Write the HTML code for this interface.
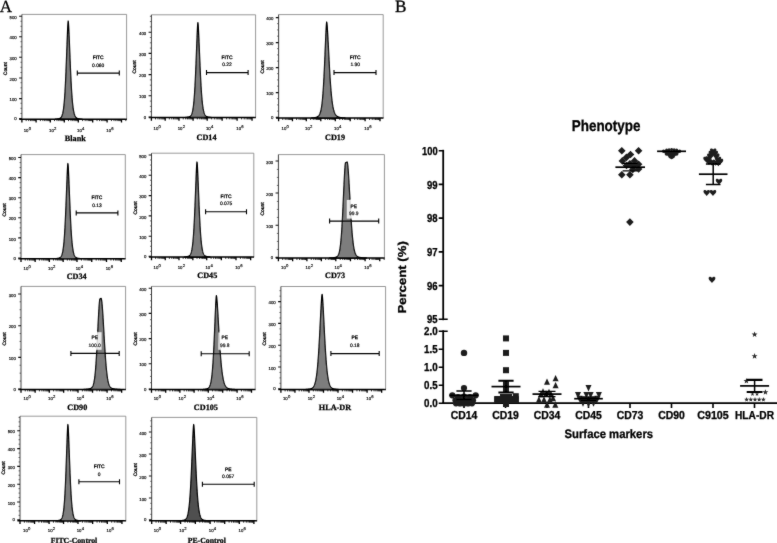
<!DOCTYPE html>
<html lang="en"><head><meta charset="utf-8"><title>Phenotype figure</title>
<style>
html,body{margin:0;padding:0;background:#fff;}
body{width:777px;height:543px;overflow:hidden;}
svg{display:block;}
svg text{text-rendering:geometricPrecision;}
</style></head><body>
<svg width="777" height="543" viewBox="0 0 777 543">
<defs><filter id="soft" x="0" y="0" width="777" height="543" filterUnits="userSpaceOnUse"><feConvolveMatrix order="3" kernelMatrix="1 3 1 3 38 3 1 3 1" divisor="54" edgeMode="duplicate" preserveAlpha="false"/></filter></defs>
<rect x="0" y="0" width="777" height="543" fill="#ffffff"/>
<g filter="url(#soft)">
<path d="M21.9,14.4 H126.6 V119.2" fill="none" stroke="#8c8c8c" stroke-width="0.9"/>
<path d="M55.33,119.20 L55.93,119.08 L56.11,119.07 L56.29,119.05 L56.47,119.04 L56.65,119.03 L56.83,119.01 L57.01,118.99 L57.19,118.98 L57.37,118.96 L57.55,118.93 L57.73,118.91 L57.91,118.88 L58.09,118.85 L58.27,118.82 L58.45,118.79 L58.64,118.75 L58.82,118.71 L59.00,118.66 L59.18,118.60 L59.36,118.54 L59.54,118.48 L59.72,118.40 L59.90,118.31 L60.08,118.22 L60.26,118.10 L60.44,117.98 L60.62,117.83 L60.80,117.67 L60.98,117.48 L61.16,117.26 L61.34,117.01 L61.52,116.73 L61.70,116.40 L61.88,116.03 L62.06,115.60 L62.24,115.11 L62.43,114.55 L62.61,113.91 L62.79,113.18 L62.97,112.35 L63.15,111.41 L63.33,110.35 L63.51,109.15 L63.69,107.80 L63.87,106.29 L64.05,104.60 L64.23,102.71 L64.41,100.62 L64.59,98.32 L64.77,95.78 L64.95,93.00 L65.13,89.97 L65.31,86.68 L65.49,83.14 L65.67,79.34 L65.85,75.30 L66.03,71.02 L66.21,66.53 L66.40,61.87 L66.58,57.05 L66.76,52.15 L66.94,47.21 L67.12,42.31 L67.30,37.55 L67.48,33.03 L67.66,28.88 L67.84,25.29 L68.02,22.49 L68.20,21.00 L68.39,22.49 L68.59,25.29 L68.78,28.88 L68.98,33.03 L69.17,37.55 L69.37,42.31 L69.56,47.21 L69.76,52.15 L69.95,57.05 L70.15,61.87 L70.34,66.53 L70.54,71.02 L70.73,75.30 L70.93,79.34 L71.12,83.14 L71.32,86.68 L71.51,89.97 L71.71,93.00 L71.90,95.78 L72.10,98.32 L72.29,100.62 L72.49,102.71 L72.68,104.60 L72.88,106.29 L73.07,107.80 L73.27,109.15 L73.46,110.35 L73.66,111.41 L73.85,112.35 L74.05,113.18 L74.24,113.91 L74.44,114.55 L74.63,115.11 L74.83,115.60 L75.02,116.03 L75.22,116.40 L75.41,116.73 L75.61,117.01 L75.80,117.26 L76.00,117.48 L76.19,117.67 L76.39,117.83 L76.58,117.98 L76.78,118.10 L76.97,118.22 L77.17,118.31 L77.36,118.40 L77.56,118.48 L77.75,118.54 L77.95,118.60 L78.14,118.66 L78.34,118.71 L78.53,118.75 L78.72,118.79 L78.92,118.82 L79.11,118.85 L79.31,118.88 L79.50,118.91 L79.70,118.93 L79.89,118.96 L80.09,118.98 L80.28,118.99 L80.48,119.01 L80.67,119.03 L80.87,119.04 L81.06,119.05 L81.26,119.07 L81.45,119.08 L82.05,119.20 Z" fill="#7d7d7d" stroke="#000" stroke-width="1.25" stroke-linejoin="round"/>
<path d="M77.3,73.1 H119.3 M77.3,70.6 V75.6 M119.3,70.6 V75.6" fill="none" stroke="#000" stroke-width="1.1"/>
<text x="98.2" y="59.1" text-anchor="middle" font-family='"Liberation Sans", Arial, sans-serif' font-size="4.9" fill="#000" stroke="#000" stroke-width="0.3">FITC</text>
<text x="98.2" y="66.6" text-anchor="middle" font-family='"Liberation Sans", Arial, sans-serif' font-size="4.9" fill="#000" stroke="#000" stroke-width="0.2">0.060</text>
<path d="M21.9,14.4 V119.2" fill="none" stroke="#2a2a2a" stroke-width="0.9"/>
<path d="M19.299999999999997,119.2 H126.89999999999999" fill="none" stroke="#000" stroke-width="1.5"/>
<text x="16.7" y="18.900000000000002" text-anchor="end" font-family='"Liberation Sans", Arial, sans-serif' font-size="4.3" fill="#000" stroke="#000" stroke-width="0.16">500</text>
<text x="16.7" y="39.4" text-anchor="end" font-family='"Liberation Sans", Arial, sans-serif' font-size="4.3" fill="#000" stroke="#000" stroke-width="0.16">400</text>
<text x="16.7" y="59.9" text-anchor="end" font-family='"Liberation Sans", Arial, sans-serif' font-size="4.3" fill="#000" stroke="#000" stroke-width="0.16">300</text>
<text x="16.7" y="80.6" text-anchor="end" font-family='"Liberation Sans", Arial, sans-serif' font-size="4.3" fill="#000" stroke="#000" stroke-width="0.16">200</text>
<text x="16.7" y="101.19999999999999" text-anchor="end" font-family='"Liberation Sans", Arial, sans-serif' font-size="4.3" fill="#000" stroke="#000" stroke-width="0.16">100</text>
<text x="16.7" y="120.1" text-anchor="end" font-family='"Liberation Sans", Arial, sans-serif' font-size="4.3" fill="#000" stroke="#000" stroke-width="0.16">0</text>
<path d="M19.099999999999998,16.3 H21.9 M19.099999999999998,36.8 H21.9 M19.099999999999998,57.3 H21.9 M19.099999999999998,78.0 H21.9 M19.099999999999998,98.6 H21.9 M19.099999999999998,118.6 H21.9 " fill="none" stroke="#111" stroke-width="1.1"/>
<path d="M20.4,113.47 H21.9 M20.4,108.35 H21.9 M20.4,103.22 H21.9 M20.4,92.97 H21.9 M20.4,87.85 H21.9 M20.4,82.72 H21.9 M20.4,72.47 H21.9 M20.4,67.35 H21.9 M20.4,62.22 H21.9 M20.4,51.97 H21.9 M20.4,46.85 H21.9 M20.4,41.72 H21.9 M20.4,31.47 H21.9 M20.4,26.35 H21.9 M20.4,21.22 H21.9 " fill="none" stroke="#333" stroke-width="0.7"/>
<path d="M21.90,119.2 V122.4 M36.10,119.2 V122.4 M50.30,119.2 V122.4 M64.30,119.2 V122.4 M78.30,119.2 V122.4 M92.70,119.2 V122.4 M107.10,119.2 V122.4 M121.50,119.2 V122.4 " fill="none" stroke="#000" stroke-width="1.3"/>
<path d="M26.17,119.2 V121.10000000000001 M28.68,119.2 V121.10000000000001 M30.45,119.2 V121.10000000000001 M31.83,119.2 V121.10000000000001 M32.95,119.2 V121.10000000000001 M33.90,119.2 V121.10000000000001 M34.72,119.2 V121.10000000000001 M35.45,119.2 V121.10000000000001 M40.37,119.2 V121.10000000000001 M42.88,119.2 V121.10000000000001 M44.65,119.2 V121.10000000000001 M46.03,119.2 V121.10000000000001 M47.15,119.2 V121.10000000000001 M48.10,119.2 V121.10000000000001 M48.92,119.2 V121.10000000000001 M49.65,119.2 V121.10000000000001 M54.51,119.2 V121.10000000000001 M56.98,119.2 V121.10000000000001 M58.73,119.2 V121.10000000000001 M60.09,119.2 V121.10000000000001 M61.19,119.2 V121.10000000000001 M62.13,119.2 V121.10000000000001 M62.94,119.2 V121.10000000000001 M63.66,119.2 V121.10000000000001 M68.51,119.2 V121.10000000000001 M70.98,119.2 V121.10000000000001 M72.73,119.2 V121.10000000000001 M74.09,119.2 V121.10000000000001 M75.19,119.2 V121.10000000000001 M76.13,119.2 V121.10000000000001 M76.94,119.2 V121.10000000000001 M77.66,119.2 V121.10000000000001 M82.63,119.2 V121.10000000000001 M85.17,119.2 V121.10000000000001 M86.97,119.2 V121.10000000000001 M88.37,119.2 V121.10000000000001 M89.51,119.2 V121.10000000000001 M90.47,119.2 V121.10000000000001 M91.30,119.2 V121.10000000000001 M92.04,119.2 V121.10000000000001 M97.03,119.2 V121.10000000000001 M99.57,119.2 V121.10000000000001 M101.37,119.2 V121.10000000000001 M102.77,119.2 V121.10000000000001 M103.91,119.2 V121.10000000000001 M104.87,119.2 V121.10000000000001 M105.70,119.2 V121.10000000000001 M106.44,119.2 V121.10000000000001 M111.43,119.2 V121.10000000000001 M113.97,119.2 V121.10000000000001 M115.77,119.2 V121.10000000000001 M117.17,119.2 V121.10000000000001 M118.31,119.2 V121.10000000000001 M119.27,119.2 V121.10000000000001 M120.10,119.2 V121.10000000000001 M120.84,119.2 V121.10000000000001 M125.83,119.2 V121.10000000000001 " fill="none" stroke="#000" stroke-width="0.8"/>
<text x="26.1" y="131.9" text-anchor="middle" font-family='"Liberation Sans", Arial, sans-serif' font-size="4.3" fill="#000" stroke="#000" stroke-width="0.16">10</text>
<text x="29.9" y="129.7" text-anchor="middle" font-family='"Liberation Sans", Arial, sans-serif' font-size="4.2" fill="#000" stroke="#000" stroke-width="0.16">0</text>
<text x="51.4" y="131.9" text-anchor="middle" font-family='"Liberation Sans", Arial, sans-serif' font-size="4.3" fill="#000" stroke="#000" stroke-width="0.16">10</text>
<text x="55.199999999999996" y="129.7" text-anchor="middle" font-family='"Liberation Sans", Arial, sans-serif' font-size="4.2" fill="#000" stroke="#000" stroke-width="0.16">2</text>
<text x="79.39999999999999" y="131.9" text-anchor="middle" font-family='"Liberation Sans", Arial, sans-serif' font-size="4.3" fill="#000" stroke="#000" stroke-width="0.16">10</text>
<text x="83.2" y="129.7" text-anchor="middle" font-family='"Liberation Sans", Arial, sans-serif' font-size="4.2" fill="#000" stroke="#000" stroke-width="0.16">4</text>
<text x="108.69999999999999" y="131.9" text-anchor="middle" font-family='"Liberation Sans", Arial, sans-serif' font-size="4.3" fill="#000" stroke="#000" stroke-width="0.16">10</text>
<text x="112.5" y="129.7" text-anchor="middle" font-family='"Liberation Sans", Arial, sans-serif' font-size="4.2" fill="#000" stroke="#000" stroke-width="0.16">6</text>
<text transform="translate(7.2,68.6) rotate(-90)" text-anchor="middle" font-family='"Liberation Sans", Arial, sans-serif' font-size="4.9" fill="#000" stroke="#000" stroke-width="0.3">Count</text>
<text x="75.3" y="140.5" text-anchor="middle" font-family='"Liberation Serif", "Times New Roman", serif' font-weight="bold" font-size="8.2" fill="#000" stroke="#000" stroke-width="0.25">Blank</text>
<path d="M151.4,14.8 H255.6 V117.5" fill="none" stroke="#8c8c8c" stroke-width="0.9"/>
<path d="M185.21,117.50 L185.81,117.37 L185.99,117.36 L186.17,117.35 L186.35,117.33 L186.53,117.32 L186.71,117.30 L186.89,117.28 L187.07,117.26 L187.25,117.24 L187.43,117.22 L187.61,117.19 L187.79,117.17 L187.97,117.14 L188.15,117.10 L188.34,117.06 L188.52,117.02 L188.70,116.98 L188.88,116.92 L189.06,116.87 L189.24,116.80 L189.42,116.73 L189.60,116.64 L189.78,116.55 L189.96,116.44 L190.14,116.32 L190.32,116.18 L190.50,116.02 L190.68,115.84 L190.86,115.63 L191.04,115.39 L191.22,115.11 L191.40,114.80 L191.58,114.43 L191.76,114.02 L191.94,113.55 L192.12,113.00 L192.31,112.39 L192.49,111.68 L192.67,110.88 L192.85,109.97 L193.03,108.95 L193.21,107.79 L193.39,106.48 L193.57,105.02 L193.75,103.39 L193.93,101.57 L194.11,99.55 L194.29,97.32 L194.47,94.86 L194.65,92.18 L194.83,89.25 L195.01,86.07 L195.19,82.65 L195.37,78.98 L195.55,75.07 L195.73,70.94 L195.91,66.60 L196.10,62.09 L196.28,57.44 L196.46,52.70 L196.64,47.93 L196.82,43.20 L197.00,38.59 L197.18,34.22 L197.36,30.22 L197.54,26.74 L197.72,24.04 L197.90,22.60 L198.09,24.04 L198.29,26.74 L198.48,30.22 L198.68,34.22 L198.87,38.59 L199.07,43.20 L199.26,47.93 L199.46,52.70 L199.65,57.44 L199.85,62.09 L200.04,66.60 L200.24,70.94 L200.43,75.07 L200.63,78.98 L200.82,82.65 L201.02,86.07 L201.21,89.25 L201.41,92.18 L201.60,94.86 L201.80,97.32 L201.99,99.55 L202.19,101.57 L202.38,103.39 L202.58,105.02 L202.77,106.48 L202.97,107.79 L203.16,108.95 L203.36,109.97 L203.55,110.88 L203.75,111.68 L203.94,112.39 L204.14,113.00 L204.33,113.55 L204.53,114.02 L204.72,114.43 L204.92,114.80 L205.11,115.11 L205.31,115.39 L205.50,115.63 L205.70,115.84 L205.89,116.02 L206.09,116.18 L206.28,116.32 L206.48,116.44 L206.67,116.55 L206.87,116.64 L207.06,116.73 L207.26,116.80 L207.45,116.87 L207.65,116.92 L207.84,116.98 L208.04,117.02 L208.23,117.06 L208.42,117.10 L208.62,117.14 L208.81,117.17 L209.01,117.19 L209.20,117.22 L209.40,117.24 L209.59,117.26 L209.79,117.28 L209.98,117.30 L210.18,117.32 L210.37,117.33 L210.57,117.35 L210.76,117.36 L210.96,117.37 L211.56,117.50 Z" fill="#7d7d7d" stroke="#000" stroke-width="1.25" stroke-linejoin="round"/>
<path d="M206.5,72.6 H248.1 M206.5,70.1 V75.1 M248.1,70.1 V75.1" fill="none" stroke="#000" stroke-width="1.1"/>
<text x="227" y="59.1" text-anchor="middle" font-family='"Liberation Sans", Arial, sans-serif' font-size="4.9" fill="#000" stroke="#000" stroke-width="0.3">FITC</text>
<text x="227" y="66.2" text-anchor="middle" font-family='"Liberation Sans", Arial, sans-serif' font-size="4.9" fill="#000" stroke="#000" stroke-width="0.2">0.22</text>
<path d="M151.4,14.8 V117.5" fill="none" stroke="#2a2a2a" stroke-width="0.9"/>
<path d="M148.8,117.5 H255.9" fill="none" stroke="#000" stroke-width="1.5"/>
<text x="146.20000000000002" y="34.800000000000004" text-anchor="end" font-family='"Liberation Sans", Arial, sans-serif' font-size="4.3" fill="#000" stroke="#000" stroke-width="0.16">400</text>
<text x="146.20000000000002" y="56.0" text-anchor="end" font-family='"Liberation Sans", Arial, sans-serif' font-size="4.3" fill="#000" stroke="#000" stroke-width="0.16">300</text>
<text x="146.20000000000002" y="77.19999999999999" text-anchor="end" font-family='"Liberation Sans", Arial, sans-serif' font-size="4.3" fill="#000" stroke="#000" stroke-width="0.16">200</text>
<text x="146.20000000000002" y="98.39999999999999" text-anchor="end" font-family='"Liberation Sans", Arial, sans-serif' font-size="4.3" fill="#000" stroke="#000" stroke-width="0.16">100</text>
<text x="146.20000000000002" y="118.5" text-anchor="end" font-family='"Liberation Sans", Arial, sans-serif' font-size="4.3" fill="#000" stroke="#000" stroke-width="0.16">0</text>
<path d="M148.6,32.2 H151.4 M148.6,53.4 H151.4 M148.6,74.6 H151.4 M148.6,95.8 H151.4 M148.6,117.0 H151.4 " fill="none" stroke="#111" stroke-width="1.1"/>
<path d="M149.9,111.70 H151.4 M149.9,106.40 H151.4 M149.9,101.10 H151.4 M149.9,90.50 H151.4 M149.9,85.20 H151.4 M149.9,79.90 H151.4 M149.9,69.30 H151.4 M149.9,64.00 H151.4 M149.9,58.70 H151.4 M149.9,48.10 H151.4 M149.9,42.80 H151.4 M149.9,37.50 H151.4 M149.9,26.90 H151.4 M149.9,21.60 H151.4 M149.9,16.30 H151.4 " fill="none" stroke="#333" stroke-width="0.7"/>
<path d="M151.40,117.5 V120.7 M165.20,117.5 V120.7 M179.00,117.5 V120.7 M193.10,117.5 V120.7 M207.20,117.5 V120.7 M222.15,117.5 V120.7 M237.10,117.5 V120.7 M252.05,117.5 V120.7 " fill="none" stroke="#000" stroke-width="1.3"/>
<path d="M155.55,117.5 V119.4 M157.98,117.5 V119.4 M159.71,117.5 V119.4 M161.05,117.5 V119.4 M162.14,117.5 V119.4 M163.06,117.5 V119.4 M163.86,117.5 V119.4 M164.57,117.5 V119.4 M169.35,117.5 V119.4 M171.78,117.5 V119.4 M173.51,117.5 V119.4 M174.85,117.5 V119.4 M175.94,117.5 V119.4 M176.86,117.5 V119.4 M177.66,117.5 V119.4 M178.37,117.5 V119.4 M183.24,117.5 V119.4 M185.73,117.5 V119.4 M187.49,117.5 V119.4 M188.86,117.5 V119.4 M189.97,117.5 V119.4 M190.92,117.5 V119.4 M191.73,117.5 V119.4 M192.45,117.5 V119.4 M197.34,117.5 V119.4 M199.83,117.5 V119.4 M201.59,117.5 V119.4 M202.96,117.5 V119.4 M204.07,117.5 V119.4 M205.02,117.5 V119.4 M205.83,117.5 V119.4 M206.55,117.5 V119.4 M211.70,117.5 V119.4 M214.33,117.5 V119.4 M216.20,117.5 V119.4 M217.65,117.5 V119.4 M218.83,117.5 V119.4 M219.83,117.5 V119.4 M220.70,117.5 V119.4 M221.47,117.5 V119.4 M226.65,117.5 V119.4 M229.28,117.5 V119.4 M231.15,117.5 V119.4 M232.60,117.5 V119.4 M233.78,117.5 V119.4 M234.78,117.5 V119.4 M235.65,117.5 V119.4 M236.42,117.5 V119.4 M241.60,117.5 V119.4 M244.23,117.5 V119.4 M246.10,117.5 V119.4 M247.55,117.5 V119.4 M248.73,117.5 V119.4 M249.73,117.5 V119.4 M250.60,117.5 V119.4 M251.37,117.5 V119.4 " fill="none" stroke="#000" stroke-width="0.8"/>
<text x="155.9" y="129.7" text-anchor="middle" font-family='"Liberation Sans", Arial, sans-serif' font-size="4.3" fill="#000" stroke="#000" stroke-width="0.16">10</text>
<text x="159.70000000000002" y="127.5" text-anchor="middle" font-family='"Liberation Sans", Arial, sans-serif' font-size="4.2" fill="#000" stroke="#000" stroke-width="0.16">0</text>
<text x="180.1" y="129.7" text-anchor="middle" font-family='"Liberation Sans", Arial, sans-serif' font-size="4.3" fill="#000" stroke="#000" stroke-width="0.16">10</text>
<text x="183.9" y="127.5" text-anchor="middle" font-family='"Liberation Sans", Arial, sans-serif' font-size="4.2" fill="#000" stroke="#000" stroke-width="0.16">2</text>
<text x="208.29999999999998" y="129.7" text-anchor="middle" font-family='"Liberation Sans", Arial, sans-serif' font-size="4.3" fill="#000" stroke="#000" stroke-width="0.16">10</text>
<text x="212.1" y="127.5" text-anchor="middle" font-family='"Liberation Sans", Arial, sans-serif' font-size="4.2" fill="#000" stroke="#000" stroke-width="0.16">4</text>
<text x="238.7" y="129.7" text-anchor="middle" font-family='"Liberation Sans", Arial, sans-serif' font-size="4.3" fill="#000" stroke="#000" stroke-width="0.16">10</text>
<text x="242.5" y="127.5" text-anchor="middle" font-family='"Liberation Sans", Arial, sans-serif' font-size="4.2" fill="#000" stroke="#000" stroke-width="0.16">6</text>
<text transform="translate(136.39999999999998,67) rotate(-90)" text-anchor="middle" font-family='"Liberation Sans", Arial, sans-serif' font-size="4.9" fill="#000" stroke="#000" stroke-width="0.3">Count</text>
<text x="206.5" y="140.0" text-anchor="middle" font-family='"Liberation Serif", "Times New Roman", serif' font-weight="bold" font-size="8.2" fill="#000" stroke="#000" stroke-width="0.25">CD14</text>
<path d="M278.6,14.6 H383.2 V118.1" fill="none" stroke="#8c8c8c" stroke-width="0.9"/>
<path d="M311.48,118.10 L312.08,117.97 L312.28,117.96 L312.47,117.95 L312.67,117.93 L312.86,117.92 L313.06,117.90 L313.25,117.88 L313.45,117.86 L313.64,117.84 L313.84,117.82 L314.03,117.79 L314.23,117.77 L314.42,117.74 L314.62,117.71 L314.81,117.67 L315.01,117.63 L315.20,117.59 L315.40,117.55 L315.59,117.50 L315.79,117.45 L315.98,117.40 L316.18,117.34 L316.37,117.27 L316.56,117.20 L316.76,117.13 L316.95,117.04 L317.15,116.95 L317.34,116.85 L317.54,116.74 L317.73,116.61 L317.93,116.48 L318.12,116.32 L318.32,116.16 L318.51,115.97 L318.71,115.76 L318.90,115.52 L319.10,115.26 L319.29,114.96 L319.49,114.63 L319.68,114.26 L319.88,113.84 L320.07,113.36 L320.27,112.82 L320.46,112.22 L320.66,111.54 L320.85,110.77 L321.05,109.91 L321.24,108.94 L321.44,107.85 L321.63,106.64 L321.83,105.28 L322.02,103.76 L322.22,102.08 L322.41,100.22 L322.61,98.16 L322.80,95.90 L323.00,93.42 L323.19,90.72 L323.39,87.78 L323.58,84.60 L323.78,81.19 L323.97,77.53 L324.17,73.65 L324.36,69.55 L324.56,65.26 L324.75,60.81 L324.95,56.22 L325.14,51.55 L325.34,46.85 L325.53,42.20 L325.73,37.67 L325.92,33.39 L326.12,29.46 L326.31,26.06 L326.51,23.40 L326.70,22.00 L326.94,23.40 L327.18,26.06 L327.41,29.46 L327.65,33.39 L327.89,37.67 L328.13,42.20 L328.37,46.85 L328.61,51.55 L328.84,56.22 L329.08,60.81 L329.32,65.26 L329.56,69.55 L329.80,73.65 L330.04,77.53 L330.27,81.19 L330.51,84.60 L330.75,87.78 L330.99,90.72 L331.23,93.42 L331.46,95.90 L331.70,98.16 L331.94,100.22 L332.18,102.08 L332.42,103.76 L332.66,105.28 L332.89,106.64 L333.13,107.85 L333.37,108.94 L333.61,109.91 L333.85,110.77 L334.08,111.54 L334.32,112.22 L334.56,112.82 L334.80,113.36 L335.04,113.84 L335.28,114.26 L335.51,114.63 L335.75,114.96 L335.99,115.26 L336.23,115.52 L336.47,115.76 L336.71,115.97 L336.94,116.16 L337.18,116.32 L337.42,116.48 L337.66,116.61 L337.90,116.74 L338.13,116.85 L338.37,116.95 L338.61,117.04 L338.85,117.13 L339.09,117.20 L339.33,117.27 L339.56,117.34 L339.80,117.40 L340.04,117.45 L340.28,117.50 L340.52,117.55 L340.75,117.59 L340.99,117.63 L341.23,117.67 L341.47,117.71 L341.71,117.74 L341.95,117.77 L342.18,117.79 L342.42,117.82 L342.66,117.84 L342.90,117.86 L343.14,117.88 L343.38,117.90 L343.61,117.92 L343.85,117.93 L344.09,117.95 L344.33,117.96 L344.57,117.97 L345.17,118.10 Z" fill="#7d7d7d" stroke="#000" stroke-width="1.25" stroke-linejoin="round"/>
<path d="M334,72.6 H376 M334,70.1 V75.1 M376,70.1 V75.1" fill="none" stroke="#000" stroke-width="1.1"/>
<text x="355.2" y="59.1" text-anchor="middle" font-family='"Liberation Sans", Arial, sans-serif' font-size="4.9" fill="#000" stroke="#000" stroke-width="0.3">FITC</text>
<text x="355.2" y="66.2" text-anchor="middle" font-family='"Liberation Sans", Arial, sans-serif' font-size="4.9" fill="#000" stroke="#000" stroke-width="0.2">1.90</text>
<path d="M278.6,14.6 V118.1" fill="none" stroke="#2a2a2a" stroke-width="0.9"/>
<path d="M276.0,118.1 H383.5" fill="none" stroke="#000" stroke-width="1.5"/>
<text x="273.40000000000003" y="20.200000000000003" text-anchor="end" font-family='"Liberation Sans", Arial, sans-serif' font-size="4.3" fill="#000" stroke="#000" stroke-width="0.16">400</text>
<text x="273.40000000000003" y="45.2" text-anchor="end" font-family='"Liberation Sans", Arial, sans-serif' font-size="4.3" fill="#000" stroke="#000" stroke-width="0.16">300</text>
<text x="273.40000000000003" y="70.19999999999999" text-anchor="end" font-family='"Liberation Sans", Arial, sans-serif' font-size="4.3" fill="#000" stroke="#000" stroke-width="0.16">200</text>
<text x="273.40000000000003" y="95.19999999999999" text-anchor="end" font-family='"Liberation Sans", Arial, sans-serif' font-size="4.3" fill="#000" stroke="#000" stroke-width="0.16">100</text>
<text x="273.40000000000003" y="118.9" text-anchor="end" font-family='"Liberation Sans", Arial, sans-serif' font-size="4.3" fill="#000" stroke="#000" stroke-width="0.16">0</text>
<path d="M275.8,17.6 H278.6 M275.8,42.6 H278.6 M275.8,67.6 H278.6 M275.8,92.6 H278.6 M275.8,117.4 H278.6 " fill="none" stroke="#111" stroke-width="1.1"/>
<path d="M277.1,111.15 H278.6 M277.1,104.90 H278.6 M277.1,98.65 H278.6 M277.1,86.15 H278.6 M277.1,79.90 H278.6 M277.1,73.65 H278.6 M277.1,61.15 H278.6 M277.1,54.90 H278.6 M277.1,48.65 H278.6 M277.1,36.15 H278.6 M277.1,29.90 H278.6 M277.1,23.65 H278.6 " fill="none" stroke="#333" stroke-width="0.7"/>
<path d="M278.60,118.1 V121.3 M292.45,118.1 V121.3 M306.30,118.1 V121.3 M320.80,118.1 V121.3 M335.30,118.1 V121.3 M350.20,118.1 V121.3 M365.10,118.1 V121.3 M380.00,118.1 V121.3 " fill="none" stroke="#000" stroke-width="1.3"/>
<path d="M282.77,118.1 V120.0 M285.21,118.1 V120.0 M286.94,118.1 V120.0 M288.28,118.1 V120.0 M289.38,118.1 V120.0 M290.30,118.1 V120.0 M291.11,118.1 V120.0 M291.82,118.1 V120.0 M296.62,118.1 V120.0 M299.06,118.1 V120.0 M300.79,118.1 V120.0 M302.13,118.1 V120.0 M303.23,118.1 V120.0 M304.15,118.1 V120.0 M304.96,118.1 V120.0 M305.67,118.1 V120.0 M310.66,118.1 V120.0 M313.22,118.1 V120.0 M315.03,118.1 V120.0 M316.44,118.1 V120.0 M317.58,118.1 V120.0 M318.55,118.1 V120.0 M319.39,118.1 V120.0 M320.14,118.1 V120.0 M325.16,118.1 V120.0 M327.72,118.1 V120.0 M329.53,118.1 V120.0 M330.94,118.1 V120.0 M332.08,118.1 V120.0 M333.05,118.1 V120.0 M333.89,118.1 V120.0 M334.64,118.1 V120.0 M339.79,118.1 V120.0 M342.41,118.1 V120.0 M344.27,118.1 V120.0 M345.71,118.1 V120.0 M346.89,118.1 V120.0 M347.89,118.1 V120.0 M348.76,118.1 V120.0 M349.52,118.1 V120.0 M354.69,118.1 V120.0 M357.31,118.1 V120.0 M359.17,118.1 V120.0 M360.61,118.1 V120.0 M361.79,118.1 V120.0 M362.79,118.1 V120.0 M363.66,118.1 V120.0 M364.42,118.1 V120.0 M369.59,118.1 V120.0 M372.21,118.1 V120.0 M374.07,118.1 V120.0 M375.51,118.1 V120.0 M376.69,118.1 V120.0 M377.69,118.1 V120.0 M378.56,118.1 V120.0 M379.32,118.1 V120.0 " fill="none" stroke="#000" stroke-width="0.8"/>
<text x="283.90000000000003" y="129.7" text-anchor="middle" font-family='"Liberation Sans", Arial, sans-serif' font-size="4.3" fill="#000" stroke="#000" stroke-width="0.16">10</text>
<text x="287.7" y="127.5" text-anchor="middle" font-family='"Liberation Sans", Arial, sans-serif' font-size="4.2" fill="#000" stroke="#000" stroke-width="0.16">0</text>
<text x="307.40000000000003" y="129.7" text-anchor="middle" font-family='"Liberation Sans", Arial, sans-serif' font-size="4.3" fill="#000" stroke="#000" stroke-width="0.16">10</text>
<text x="311.2" y="127.5" text-anchor="middle" font-family='"Liberation Sans", Arial, sans-serif' font-size="4.2" fill="#000" stroke="#000" stroke-width="0.16">2</text>
<text x="336.40000000000003" y="129.7" text-anchor="middle" font-family='"Liberation Sans", Arial, sans-serif' font-size="4.3" fill="#000" stroke="#000" stroke-width="0.16">10</text>
<text x="340.2" y="127.5" text-anchor="middle" font-family='"Liberation Sans", Arial, sans-serif' font-size="4.2" fill="#000" stroke="#000" stroke-width="0.16">4</text>
<text x="366.70000000000005" y="129.7" text-anchor="middle" font-family='"Liberation Sans", Arial, sans-serif' font-size="4.3" fill="#000" stroke="#000" stroke-width="0.16">10</text>
<text x="370.5" y="127.5" text-anchor="middle" font-family='"Liberation Sans", Arial, sans-serif' font-size="4.2" fill="#000" stroke="#000" stroke-width="0.16">6</text>
<text transform="translate(263.9,67) rotate(-90)" text-anchor="middle" font-family='"Liberation Sans", Arial, sans-serif' font-size="4.9" fill="#000" stroke="#000" stroke-width="0.3">Count</text>
<text x="335" y="140.0" text-anchor="middle" font-family='"Liberation Serif", "Times New Roman", serif' font-weight="bold" font-size="8.2" fill="#000" stroke="#000" stroke-width="0.25">CD19</text>
<path d="M21,154.6 H125.3 V258.7" fill="none" stroke="#8c8c8c" stroke-width="0.9"/>
<path d="M55.21,258.70 L55.81,258.57 L55.99,258.56 L56.17,258.55 L56.35,258.53 L56.53,258.52 L56.71,258.50 L56.89,258.48 L57.07,258.46 L57.25,258.44 L57.43,258.42 L57.61,258.39 L57.79,258.37 L57.97,258.33 L58.15,258.30 L58.34,258.26 L58.52,258.22 L58.70,258.17 L58.88,258.12 L59.06,258.06 L59.24,258.00 L59.42,257.92 L59.60,257.84 L59.78,257.75 L59.96,257.64 L60.14,257.51 L60.32,257.37 L60.50,257.21 L60.68,257.03 L60.86,256.82 L61.04,256.58 L61.22,256.30 L61.40,255.99 L61.58,255.62 L61.76,255.21 L61.94,254.73 L62.13,254.19 L62.31,253.57 L62.49,252.86 L62.67,252.06 L62.85,251.15 L63.03,250.12 L63.21,248.96 L63.39,247.65 L63.57,246.18 L63.75,244.54 L63.93,242.72 L64.11,240.69 L64.29,238.45 L64.47,235.99 L64.65,233.30 L64.83,230.36 L65.01,227.17 L65.19,223.74 L65.37,220.06 L65.55,216.14 L65.73,211.99 L65.91,207.64 L66.10,203.12 L66.28,198.45 L66.46,193.70 L66.64,188.91 L66.82,184.16 L67.00,179.54 L67.18,175.16 L67.36,171.14 L67.54,167.66 L67.72,164.94 L67.90,163.50 L68.09,164.94 L68.28,167.66 L68.46,171.14 L68.65,175.16 L68.84,179.54 L69.03,184.16 L69.21,188.91 L69.40,193.70 L69.59,198.45 L69.78,203.12 L69.96,207.64 L70.15,211.99 L70.34,216.14 L70.53,220.06 L70.72,223.74 L70.90,227.17 L71.09,230.36 L71.28,233.30 L71.47,235.99 L71.65,238.45 L71.84,240.69 L72.03,242.72 L72.22,244.54 L72.40,246.18 L72.59,247.65 L72.78,248.96 L72.97,250.12 L73.16,251.15 L73.34,252.06 L73.53,252.86 L73.72,253.57 L73.91,254.19 L74.09,254.73 L74.28,255.21 L74.47,255.62 L74.66,255.99 L74.84,256.30 L75.03,256.58 L75.22,256.82 L75.41,257.03 L75.60,257.21 L75.78,257.37 L75.97,257.51 L76.16,257.64 L76.35,257.75 L76.53,257.84 L76.72,257.92 L76.91,258.00 L77.10,258.06 L77.28,258.12 L77.47,258.17 L77.66,258.22 L77.85,258.26 L78.04,258.30 L78.22,258.33 L78.41,258.37 L78.60,258.39 L78.79,258.42 L78.97,258.44 L79.16,258.46 L79.35,258.48 L79.54,258.50 L79.72,258.52 L79.91,258.53 L80.10,258.55 L80.29,258.56 L80.48,258.57 L81.08,258.70 Z" fill="#7d7d7d" stroke="#000" stroke-width="1.25" stroke-linejoin="round"/>
<path d="M76.2,212.9 H117.9 M76.2,210.4 V215.4 M117.9,210.4 V215.4" fill="none" stroke="#000" stroke-width="1.1"/>
<text x="96.9" y="199.1" text-anchor="middle" font-family='"Liberation Sans", Arial, sans-serif' font-size="4.9" fill="#000" stroke="#000" stroke-width="0.3">FITC</text>
<text x="96.9" y="206.6" text-anchor="middle" font-family='"Liberation Sans", Arial, sans-serif' font-size="4.9" fill="#000" stroke="#000" stroke-width="0.2">0.13</text>
<path d="M21,154.6 V258.7" fill="none" stroke="#2a2a2a" stroke-width="0.9"/>
<path d="M18.4,258.7 H125.6" fill="none" stroke="#000" stroke-width="1.5"/>
<text x="15.8" y="160.1" text-anchor="end" font-family='"Liberation Sans", Arial, sans-serif' font-size="4.3" fill="#000" stroke="#000" stroke-width="0.16">500</text>
<text x="15.8" y="180.2" text-anchor="end" font-family='"Liberation Sans", Arial, sans-serif' font-size="4.3" fill="#000" stroke="#000" stroke-width="0.16">400</text>
<text x="15.8" y="200.29999999999998" text-anchor="end" font-family='"Liberation Sans", Arial, sans-serif' font-size="4.3" fill="#000" stroke="#000" stroke-width="0.16">300</text>
<text x="15.8" y="220.4" text-anchor="end" font-family='"Liberation Sans", Arial, sans-serif' font-size="4.3" fill="#000" stroke="#000" stroke-width="0.16">200</text>
<text x="15.8" y="240.5" text-anchor="end" font-family='"Liberation Sans", Arial, sans-serif' font-size="4.3" fill="#000" stroke="#000" stroke-width="0.16">100</text>
<text x="15.8" y="259.5" text-anchor="end" font-family='"Liberation Sans", Arial, sans-serif' font-size="4.3" fill="#000" stroke="#000" stroke-width="0.16">0</text>
<path d="M18.2,157.5 H21 M18.2,177.6 H21 M18.2,197.7 H21 M18.2,217.8 H21 M18.2,237.9 H21 M18.2,258.0 H21 " fill="none" stroke="#111" stroke-width="1.1"/>
<path d="M19.5,252.97 H21 M19.5,247.95 H21 M19.5,242.92 H21 M19.5,232.87 H21 M19.5,227.85 H21 M19.5,222.82 H21 M19.5,212.77 H21 M19.5,207.75 H21 M19.5,202.72 H21 M19.5,192.67 H21 M19.5,187.65 H21 M19.5,182.62 H21 M19.5,172.57 H21 M19.5,167.55 H21 M19.5,162.52 H21 " fill="none" stroke="#333" stroke-width="0.7"/>
<path d="M21.00,258.7 V261.9 M35.15,258.7 V261.9 M49.30,258.7 V261.9 M63.15,258.7 V261.9 M77.00,258.7 V261.9 M91.75,258.7 V261.9 M106.50,258.7 V261.9 M121.25,258.7 V261.9 " fill="none" stroke="#000" stroke-width="1.3"/>
<path d="M25.26,258.7 V260.59999999999997 M27.75,258.7 V260.59999999999997 M29.52,258.7 V260.59999999999997 M30.89,258.7 V260.59999999999997 M32.01,258.7 V260.59999999999997 M32.96,258.7 V260.59999999999997 M33.78,258.7 V260.59999999999997 M34.50,258.7 V260.59999999999997 M39.41,258.7 V260.59999999999997 M41.90,258.7 V260.59999999999997 M43.67,258.7 V260.59999999999997 M45.04,258.7 V260.59999999999997 M46.16,258.7 V260.59999999999997 M47.11,258.7 V260.59999999999997 M47.93,258.7 V260.59999999999997 M48.65,258.7 V260.59999999999997 M53.47,258.7 V260.59999999999997 M55.91,258.7 V260.59999999999997 M57.64,258.7 V260.59999999999997 M58.98,258.7 V260.59999999999997 M60.08,258.7 V260.59999999999997 M61.00,258.7 V260.59999999999997 M61.81,258.7 V260.59999999999997 M62.52,258.7 V260.59999999999997 M67.32,258.7 V260.59999999999997 M69.76,258.7 V260.59999999999997 M71.49,258.7 V260.59999999999997 M72.83,258.7 V260.59999999999997 M73.93,258.7 V260.59999999999997 M74.85,258.7 V260.59999999999997 M75.66,258.7 V260.59999999999997 M76.37,258.7 V260.59999999999997 M81.44,258.7 V260.59999999999997 M84.04,258.7 V260.59999999999997 M85.88,258.7 V260.59999999999997 M87.31,258.7 V260.59999999999997 M88.48,258.7 V260.59999999999997 M89.47,258.7 V260.59999999999997 M90.32,258.7 V260.59999999999997 M91.08,258.7 V260.59999999999997 M96.19,258.7 V260.59999999999997 M98.79,258.7 V260.59999999999997 M100.63,258.7 V260.59999999999997 M102.06,258.7 V260.59999999999997 M103.23,258.7 V260.59999999999997 M104.22,258.7 V260.59999999999997 M105.07,258.7 V260.59999999999997 M105.83,258.7 V260.59999999999997 M110.94,258.7 V260.59999999999997 M113.54,258.7 V260.59999999999997 M115.38,258.7 V260.59999999999997 M116.81,258.7 V260.59999999999997 M117.98,258.7 V260.59999999999997 M118.97,258.7 V260.59999999999997 M119.82,258.7 V260.59999999999997 M120.58,258.7 V260.59999999999997 " fill="none" stroke="#000" stroke-width="0.8"/>
<text x="25.900000000000002" y="269.9" text-anchor="middle" font-family='"Liberation Sans", Arial, sans-serif' font-size="4.3" fill="#000" stroke="#000" stroke-width="0.16">10</text>
<text x="29.7" y="267.7" text-anchor="middle" font-family='"Liberation Sans", Arial, sans-serif' font-size="4.2" fill="#000" stroke="#000" stroke-width="0.16">0</text>
<text x="50.4" y="269.9" text-anchor="middle" font-family='"Liberation Sans", Arial, sans-serif' font-size="4.3" fill="#000" stroke="#000" stroke-width="0.16">10</text>
<text x="54.199999999999996" y="267.7" text-anchor="middle" font-family='"Liberation Sans", Arial, sans-serif' font-size="4.2" fill="#000" stroke="#000" stroke-width="0.16">2</text>
<text x="78.1" y="269.9" text-anchor="middle" font-family='"Liberation Sans", Arial, sans-serif' font-size="4.3" fill="#000" stroke="#000" stroke-width="0.16">10</text>
<text x="81.9" y="267.7" text-anchor="middle" font-family='"Liberation Sans", Arial, sans-serif' font-size="4.2" fill="#000" stroke="#000" stroke-width="0.16">4</text>
<text x="108.1" y="269.9" text-anchor="middle" font-family='"Liberation Sans", Arial, sans-serif' font-size="4.3" fill="#000" stroke="#000" stroke-width="0.16">10</text>
<text x="111.9" y="267.7" text-anchor="middle" font-family='"Liberation Sans", Arial, sans-serif' font-size="4.2" fill="#000" stroke="#000" stroke-width="0.16">6</text>
<text transform="translate(6.2,210) rotate(-90)" text-anchor="middle" font-family='"Liberation Sans", Arial, sans-serif' font-size="4.9" fill="#000" stroke="#000" stroke-width="0.3">Count</text>
<text x="76.7" y="278.6" text-anchor="middle" font-family='"Liberation Serif", "Times New Roman", serif' font-weight="bold" font-size="8.2" fill="#000" stroke="#000" stroke-width="0.25">CD34</text>
<path d="M151.5,153.2 H253.8 V257" fill="none" stroke="#8c8c8c" stroke-width="0.9"/>
<path d="M184.31,257.00 L184.91,256.87 L185.09,256.86 L185.27,256.85 L185.45,256.83 L185.63,256.82 L185.81,256.80 L185.99,256.78 L186.17,256.76 L186.35,256.74 L186.53,256.72 L186.71,256.69 L186.89,256.67 L187.07,256.64 L187.25,256.60 L187.44,256.56 L187.62,256.52 L187.80,256.48 L187.98,256.42 L188.16,256.36 L188.34,256.30 L188.52,256.23 L188.70,256.14 L188.88,256.05 L189.06,255.94 L189.24,255.82 L189.42,255.68 L189.60,255.52 L189.78,255.33 L189.96,255.12 L190.14,254.88 L190.32,254.61 L190.50,254.29 L190.68,253.93 L190.86,253.52 L191.04,253.04 L191.22,252.50 L191.41,251.88 L191.59,251.18 L191.77,250.37 L191.95,249.47 L192.13,248.44 L192.31,247.28 L192.49,245.97 L192.67,244.51 L192.85,242.87 L193.03,241.05 L193.21,239.03 L193.39,236.80 L193.57,234.34 L193.75,231.65 L193.93,228.72 L194.11,225.54 L194.29,222.11 L194.47,218.44 L194.65,214.53 L194.83,210.39 L195.01,206.05 L195.20,201.53 L195.38,196.88 L195.56,192.13 L195.74,187.35 L195.92,182.62 L196.10,178.01 L196.28,173.63 L196.46,169.63 L196.64,166.15 L196.82,163.44 L197.00,162.00 L197.19,163.44 L197.38,166.15 L197.56,169.63 L197.75,173.63 L197.94,178.01 L198.13,182.62 L198.31,187.35 L198.50,192.13 L198.69,196.88 L198.88,201.53 L199.06,206.05 L199.25,210.39 L199.44,214.53 L199.63,218.44 L199.82,222.11 L200.00,225.54 L200.19,228.72 L200.38,231.65 L200.57,234.34 L200.75,236.80 L200.94,239.03 L201.13,241.05 L201.32,242.87 L201.50,244.51 L201.69,245.97 L201.88,247.28 L202.07,248.44 L202.26,249.47 L202.44,250.37 L202.63,251.18 L202.82,251.88 L203.01,252.50 L203.19,253.04 L203.38,253.52 L203.57,253.93 L203.76,254.29 L203.94,254.61 L204.13,254.88 L204.32,255.12 L204.51,255.33 L204.70,255.52 L204.88,255.68 L205.07,255.82 L205.26,255.94 L205.45,256.05 L205.63,256.14 L205.82,256.23 L206.01,256.30 L206.20,256.36 L206.38,256.42 L206.57,256.48 L206.76,256.52 L206.95,256.56 L207.14,256.60 L207.32,256.64 L207.51,256.67 L207.70,256.69 L207.89,256.72 L208.07,256.74 L208.26,256.76 L208.45,256.78 L208.64,256.80 L208.82,256.82 L209.01,256.83 L209.20,256.85 L209.39,256.86 L209.58,256.87 L210.18,257.00 Z" fill="#7d7d7d" stroke="#000" stroke-width="1.25" stroke-linejoin="round"/>
<path d="M205.6,211.8 H246.5 M205.6,209.3 V214.3 M246.5,209.3 V214.3" fill="none" stroke="#000" stroke-width="1.1"/>
<text x="226" y="197.7" text-anchor="middle" font-family='"Liberation Sans", Arial, sans-serif' font-size="4.9" fill="#000" stroke="#000" stroke-width="0.3">FITC</text>
<text x="226" y="205.2" text-anchor="middle" font-family='"Liberation Sans", Arial, sans-serif' font-size="4.9" fill="#000" stroke="#000" stroke-width="0.2">0.075</text>
<path d="M151.5,153.2 V257" fill="none" stroke="#2a2a2a" stroke-width="0.9"/>
<path d="M148.9,257 H254.10000000000002" fill="none" stroke="#000" stroke-width="1.5"/>
<text x="146.3" y="157.6" text-anchor="end" font-family='"Liberation Sans", Arial, sans-serif' font-size="4.3" fill="#000" stroke="#000" stroke-width="0.16">500</text>
<text x="146.3" y="177.9" text-anchor="end" font-family='"Liberation Sans", Arial, sans-serif' font-size="4.3" fill="#000" stroke="#000" stroke-width="0.16">400</text>
<text x="146.3" y="198.2" text-anchor="end" font-family='"Liberation Sans", Arial, sans-serif' font-size="4.3" fill="#000" stroke="#000" stroke-width="0.16">300</text>
<text x="146.3" y="218.5" text-anchor="end" font-family='"Liberation Sans", Arial, sans-serif' font-size="4.3" fill="#000" stroke="#000" stroke-width="0.16">200</text>
<text x="146.3" y="238.79999999999998" text-anchor="end" font-family='"Liberation Sans", Arial, sans-serif' font-size="4.3" fill="#000" stroke="#000" stroke-width="0.16">100</text>
<text x="146.3" y="257.9" text-anchor="end" font-family='"Liberation Sans", Arial, sans-serif' font-size="4.3" fill="#000" stroke="#000" stroke-width="0.16">0</text>
<path d="M148.7,155.0 H151.5 M148.7,175.3 H151.5 M148.7,195.6 H151.5 M148.7,215.9 H151.5 M148.7,236.2 H151.5 M148.7,256.4 H151.5 " fill="none" stroke="#111" stroke-width="1.1"/>
<path d="M150.0,251.32 H151.5 M150.0,246.25 H151.5 M150.0,241.18 H151.5 M150.0,231.03 H151.5 M150.0,225.95 H151.5 M150.0,220.88 H151.5 M150.0,210.73 H151.5 M150.0,205.65 H151.5 M150.0,200.58 H151.5 M150.0,190.43 H151.5 M150.0,185.35 H151.5 M150.0,180.28 H151.5 M150.0,170.13 H151.5 M150.0,165.05 H151.5 M150.0,159.98 H151.5 " fill="none" stroke="#333" stroke-width="0.7"/>
<path d="M151.50,257 V260.2 M165.25,257 V260.2 M179.00,257 V260.2 M192.85,257 V260.2 M206.70,257 V260.2 M221.35,257 V260.2 M236.00,257 V260.2 M250.65,257 V260.2 " fill="none" stroke="#000" stroke-width="1.3"/>
<path d="M155.64,257 V258.9 M158.06,257 V258.9 M159.78,257 V258.9 M161.11,257 V258.9 M162.20,257 V258.9 M163.12,257 V258.9 M163.92,257 V258.9 M164.62,257 V258.9 M169.39,257 V258.9 M171.81,257 V258.9 M173.53,257 V258.9 M174.86,257 V258.9 M175.95,257 V258.9 M176.87,257 V258.9 M177.67,257 V258.9 M178.37,257 V258.9 M183.17,257 V258.9 M185.61,257 V258.9 M187.34,257 V258.9 M188.68,257 V258.9 M189.78,257 V258.9 M190.70,257 V258.9 M191.51,257 V258.9 M192.22,257 V258.9 M197.02,257 V258.9 M199.46,257 V258.9 M201.19,257 V258.9 M202.53,257 V258.9 M203.63,257 V258.9 M204.55,257 V258.9 M205.36,257 V258.9 M206.07,257 V258.9 M211.11,257 V258.9 M213.69,257 V258.9 M215.52,257 V258.9 M216.94,257 V258.9 M218.10,257 V258.9 M219.08,257 V258.9 M219.93,257 V258.9 M220.68,257 V258.9 M225.76,257 V258.9 M228.34,257 V258.9 M230.17,257 V258.9 M231.59,257 V258.9 M232.75,257 V258.9 M233.73,257 V258.9 M234.58,257 V258.9 M235.33,257 V258.9 M240.41,257 V258.9 M242.99,257 V258.9 M244.82,257 V258.9 M246.24,257 V258.9 M247.40,257 V258.9 M248.38,257 V258.9 M249.23,257 V258.9 M249.98,257 V258.9 " fill="none" stroke="#000" stroke-width="0.8"/>
<text x="155.9" y="269.4" text-anchor="middle" font-family='"Liberation Sans", Arial, sans-serif' font-size="4.3" fill="#000" stroke="#000" stroke-width="0.16">10</text>
<text x="159.70000000000002" y="267.2" text-anchor="middle" font-family='"Liberation Sans", Arial, sans-serif' font-size="4.2" fill="#000" stroke="#000" stroke-width="0.16">0</text>
<text x="180.1" y="269.4" text-anchor="middle" font-family='"Liberation Sans", Arial, sans-serif' font-size="4.3" fill="#000" stroke="#000" stroke-width="0.16">10</text>
<text x="183.9" y="267.2" text-anchor="middle" font-family='"Liberation Sans", Arial, sans-serif' font-size="4.2" fill="#000" stroke="#000" stroke-width="0.16">2</text>
<text x="207.79999999999998" y="269.4" text-anchor="middle" font-family='"Liberation Sans", Arial, sans-serif' font-size="4.3" fill="#000" stroke="#000" stroke-width="0.16">10</text>
<text x="211.6" y="267.2" text-anchor="middle" font-family='"Liberation Sans", Arial, sans-serif' font-size="4.2" fill="#000" stroke="#000" stroke-width="0.16">4</text>
<text x="237.6" y="269.4" text-anchor="middle" font-family='"Liberation Sans", Arial, sans-serif' font-size="4.3" fill="#000" stroke="#000" stroke-width="0.16">10</text>
<text x="241.4" y="267.2" text-anchor="middle" font-family='"Liberation Sans", Arial, sans-serif' font-size="4.2" fill="#000" stroke="#000" stroke-width="0.16">6</text>
<text transform="translate(136.7,208) rotate(-90)" text-anchor="middle" font-family='"Liberation Sans", Arial, sans-serif' font-size="4.9" fill="#000" stroke="#000" stroke-width="0.3">Count</text>
<text x="207.3" y="278.3" text-anchor="middle" font-family='"Liberation Serif", "Times New Roman", serif' font-weight="bold" font-size="8.2" fill="#000" stroke="#000" stroke-width="0.25">CD45</text>
<path d="M278.4,154.6 H384.4 V258.1" fill="none" stroke="#8c8c8c" stroke-width="0.9"/>
<path d="M329.44,258.10 L330.04,257.97 L330.27,257.96 L330.51,257.95 L330.74,257.93 L330.97,257.92 L331.21,257.91 L331.44,257.89 L331.68,257.87 L331.91,257.85 L332.14,257.83 L332.38,257.81 L332.61,257.79 L332.84,257.76 L333.08,257.74 L333.31,257.71 L333.54,257.68 L333.78,257.65 L334.01,257.61 L334.25,257.57 L334.48,257.53 L334.71,257.49 L334.95,257.44 L335.18,257.38 L335.41,257.32 L335.65,257.25 L335.88,257.17 L336.12,257.08 L336.35,256.98 L336.58,256.86 L336.82,256.72 L337.05,256.56 L337.28,256.37 L337.52,256.14 L337.75,255.87 L337.99,255.54 L338.22,255.16 L338.45,254.70 L338.69,254.15 L338.92,253.50 L339.15,252.73 L339.39,251.83 L339.62,250.77 L339.86,249.53 L340.09,248.09 L340.32,246.43 L340.56,244.53 L340.79,242.37 L341.02,239.93 L341.26,237.18 L341.49,234.13 L341.73,230.76 L341.96,227.07 L342.19,223.07 L342.43,218.77 L342.66,214.20 L342.89,209.40 L343.13,204.41 L343.36,199.30 L343.60,194.13 L343.83,188.99 L344.06,183.97 L344.30,179.18 L344.53,174.72 L344.76,170.72 L345.00,167.30 L345.23,164.60 L345.47,162.76 L347.10,162.00 L347.38,162.76 L347.66,164.60 L347.95,167.30 L348.23,170.72 L348.51,174.72 L348.79,179.18 L349.07,183.97 L349.35,188.99 L349.64,194.13 L349.92,199.30 L350.20,204.41 L350.48,209.40 L350.76,214.20 L351.05,218.77 L351.33,223.07 L351.61,227.07 L351.89,230.76 L352.17,234.13 L352.46,237.18 L352.74,239.93 L353.02,242.37 L353.30,244.53 L353.58,246.43 L353.86,248.09 L354.15,249.53 L354.43,250.77 L354.71,251.83 L354.99,252.73 L355.27,253.50 L355.56,254.15 L355.84,254.70 L356.12,255.16 L356.40,255.54 L356.68,255.87 L356.97,256.14 L357.25,256.37 L357.53,256.56 L357.81,256.72 L358.09,256.86 L358.37,256.98 L358.66,257.08 L358.94,257.17 L359.22,257.25 L359.50,257.32 L359.78,257.38 L360.07,257.44 L360.35,257.49 L360.63,257.53 L360.91,257.57 L361.19,257.61 L361.48,257.65 L361.76,257.68 L362.04,257.71 L362.32,257.74 L362.60,257.76 L362.88,257.79 L363.17,257.81 L363.45,257.83 L363.73,257.85 L364.01,257.87 L364.29,257.89 L364.58,257.91 L364.86,257.92 L365.14,257.93 L365.42,257.95 L365.70,257.96 L365.99,257.97 L366.59,258.10 Z" fill="#7d7d7d" stroke="#000" stroke-width="1.25" stroke-linejoin="round"/>
<rect x="346.8" y="200" width="13.5" height="18.6" fill="#ffffff" fill-opacity="0.84"/>
<path d="M329.6,221.1 H378.7 M329.6,218.6 V223.6 M378.7,218.6 V223.6" fill="none" stroke="#000" stroke-width="1.1"/>
<text x="353.8" y="208.1" text-anchor="middle" font-family='"Liberation Sans", Arial, sans-serif' font-size="4.9" fill="#000" stroke="#000" stroke-width="0.3">PE</text>
<text x="353.8" y="215.1" text-anchor="middle" font-family='"Liberation Sans", Arial, sans-serif' font-size="4.9" fill="#000" stroke="#000" stroke-width="0.2">99.9</text>
<path d="M278.4,154.6 V258.1" fill="none" stroke="#2a2a2a" stroke-width="0.9"/>
<path d="M275.79999999999995,258.1 H384.7" fill="none" stroke="#000" stroke-width="1.5"/>
<text x="273.2" y="163.6" text-anchor="end" font-family='"Liberation Sans", Arial, sans-serif' font-size="4.3" fill="#000" stroke="#000" stroke-width="0.16">300</text>
<text x="273.2" y="195.6" text-anchor="end" font-family='"Liberation Sans", Arial, sans-serif' font-size="4.3" fill="#000" stroke="#000" stroke-width="0.16">200</text>
<text x="273.2" y="227.79999999999998" text-anchor="end" font-family='"Liberation Sans", Arial, sans-serif' font-size="4.3" fill="#000" stroke="#000" stroke-width="0.16">100</text>
<text x="273.2" y="258.9" text-anchor="end" font-family='"Liberation Sans", Arial, sans-serif' font-size="4.3" fill="#000" stroke="#000" stroke-width="0.16">0</text>
<path d="M275.59999999999997,161.0 H278.4 M275.59999999999997,193.0 H278.4 M275.59999999999997,225.2 H278.4 M275.59999999999997,257.4 H278.4 " fill="none" stroke="#111" stroke-width="1.1"/>
<path d="M276.9,249.40 H278.4 M276.9,241.40 H278.4 M276.9,233.40 H278.4 M276.9,217.40 H278.4 M276.9,209.40 H278.4 M276.9,201.40 H278.4 M276.9,185.40 H278.4 M276.9,177.40 H278.4 M276.9,169.40 H278.4 " fill="none" stroke="#333" stroke-width="0.7"/>
<path d="M278.40,258.1 V261.3 M292.65,258.1 V261.3 M306.90,258.1 V261.3 M321.35,258.1 V261.3 M335.80,258.1 V261.3 M350.45,258.1 V261.3 M365.10,258.1 V261.3 M379.75,258.1 V261.3 " fill="none" stroke="#000" stroke-width="1.3"/>
<path d="M282.69,258.1 V260.0 M285.20,258.1 V260.0 M286.98,258.1 V260.0 M288.36,258.1 V260.0 M289.49,258.1 V260.0 M290.44,258.1 V260.0 M291.27,258.1 V260.0 M292.00,258.1 V260.0 M296.94,258.1 V260.0 M299.45,258.1 V260.0 M301.23,258.1 V260.0 M302.61,258.1 V260.0 M303.74,258.1 V260.0 M304.69,258.1 V260.0 M305.52,258.1 V260.0 M306.25,258.1 V260.0 M311.25,258.1 V260.0 M313.79,258.1 V260.0 M315.60,258.1 V260.0 M317.00,258.1 V260.0 M318.14,258.1 V260.0 M319.11,258.1 V260.0 M319.95,258.1 V260.0 M320.69,258.1 V260.0 M325.70,258.1 V260.0 M328.24,258.1 V260.0 M330.05,258.1 V260.0 M331.45,258.1 V260.0 M332.59,258.1 V260.0 M333.56,258.1 V260.0 M334.40,258.1 V260.0 M335.14,258.1 V260.0 M340.21,258.1 V260.0 M342.79,258.1 V260.0 M344.62,258.1 V260.0 M346.04,258.1 V260.0 M347.20,258.1 V260.0 M348.18,258.1 V260.0 M349.03,258.1 V260.0 M349.78,258.1 V260.0 M354.86,258.1 V260.0 M357.44,258.1 V260.0 M359.27,258.1 V260.0 M360.69,258.1 V260.0 M361.85,258.1 V260.0 M362.83,258.1 V260.0 M363.68,258.1 V260.0 M364.43,258.1 V260.0 M369.51,258.1 V260.0 M372.09,258.1 V260.0 M373.92,258.1 V260.0 M375.34,258.1 V260.0 M376.50,258.1 V260.0 M377.48,258.1 V260.0 M378.33,258.1 V260.0 M379.08,258.1 V260.0 M384.16,258.1 V260.0 " fill="none" stroke="#000" stroke-width="0.8"/>
<text x="283.40000000000003" y="269.4" text-anchor="middle" font-family='"Liberation Sans", Arial, sans-serif' font-size="4.3" fill="#000" stroke="#000" stroke-width="0.16">10</text>
<text x="287.2" y="267.2" text-anchor="middle" font-family='"Liberation Sans", Arial, sans-serif' font-size="4.2" fill="#000" stroke="#000" stroke-width="0.16">0</text>
<text x="308.0" y="269.4" text-anchor="middle" font-family='"Liberation Sans", Arial, sans-serif' font-size="4.3" fill="#000" stroke="#000" stroke-width="0.16">10</text>
<text x="311.79999999999995" y="267.2" text-anchor="middle" font-family='"Liberation Sans", Arial, sans-serif' font-size="4.2" fill="#000" stroke="#000" stroke-width="0.16">2</text>
<text x="336.90000000000003" y="269.4" text-anchor="middle" font-family='"Liberation Sans", Arial, sans-serif' font-size="4.3" fill="#000" stroke="#000" stroke-width="0.16">10</text>
<text x="340.7" y="267.2" text-anchor="middle" font-family='"Liberation Sans", Arial, sans-serif' font-size="4.2" fill="#000" stroke="#000" stroke-width="0.16">4</text>
<text x="366.70000000000005" y="269.4" text-anchor="middle" font-family='"Liberation Sans", Arial, sans-serif' font-size="4.3" fill="#000" stroke="#000" stroke-width="0.16">10</text>
<text x="370.5" y="267.2" text-anchor="middle" font-family='"Liberation Sans", Arial, sans-serif' font-size="4.2" fill="#000" stroke="#000" stroke-width="0.16">6</text>
<text transform="translate(263.9,209) rotate(-90)" text-anchor="middle" font-family='"Liberation Sans", Arial, sans-serif' font-size="4.9" fill="#000" stroke="#000" stroke-width="0.3">Count</text>
<text x="335" y="278.3" text-anchor="middle" font-family='"Liberation Serif", "Times New Roman", serif' font-weight="bold" font-size="8.2" fill="#000" stroke="#000" stroke-width="0.25">CD73</text>
<path d="M21,286.4 H125.6 V389.5" fill="none" stroke="#8c8c8c" stroke-width="0.9"/>
<path d="M83.38,389.50 L83.98,389.38 L84.22,389.37 L84.46,389.36 L84.70,389.34 L84.94,389.33 L85.18,389.32 L85.42,389.30 L85.66,389.28 L85.90,389.27 L86.14,389.25 L86.38,389.23 L86.62,389.21 L86.87,389.18 L87.11,389.16 L87.35,389.13 L87.59,389.10 L87.83,389.07 L88.07,389.04 L88.31,389.01 L88.55,388.97 L88.79,388.93 L89.03,388.88 L89.27,388.83 L89.51,388.78 L89.75,388.72 L89.99,388.65 L90.23,388.58 L90.47,388.49 L90.72,388.39 L90.96,388.27 L91.20,388.13 L91.44,387.97 L91.68,387.77 L91.92,387.54 L92.16,387.26 L92.40,386.92 L92.64,386.52 L92.88,386.03 L93.12,385.45 L93.36,384.76 L93.60,383.93 L93.84,382.95 L94.08,381.81 L94.32,380.46 L94.57,378.90 L94.81,377.10 L95.05,375.03 L95.29,372.69 L95.53,370.04 L95.77,367.09 L96.01,363.82 L96.25,360.23 L96.49,356.34 L96.73,352.16 L96.97,347.71 L97.21,343.04 L97.45,338.21 L97.69,333.26 L97.93,328.29 L98.17,323.36 L98.42,318.59 L98.66,314.06 L98.90,309.89 L99.14,306.19 L99.38,303.06 L99.62,300.64 L99.86,299.03 L101.10,298.40 L101.38,299.03 L101.66,300.64 L101.95,303.06 L102.23,306.19 L102.51,309.89 L102.79,314.06 L103.07,318.59 L103.35,323.36 L103.64,328.29 L103.92,333.26 L104.20,338.21 L104.48,343.04 L104.76,347.71 L105.05,352.16 L105.33,356.34 L105.61,360.23 L105.89,363.82 L106.17,367.09 L106.46,370.04 L106.74,372.69 L107.02,375.03 L107.30,377.10 L107.58,378.90 L107.86,380.46 L108.15,381.81 L108.43,382.95 L108.71,383.93 L108.99,384.76 L109.27,385.45 L109.56,386.03 L109.84,386.52 L110.12,386.92 L110.40,387.26 L110.68,387.54 L110.97,387.77 L111.25,387.97 L111.53,388.13 L111.81,388.27 L112.09,388.39 L112.38,388.49 L112.66,388.58 L112.94,388.65 L113.22,388.72 L113.50,388.78 L113.78,388.83 L114.07,388.88 L114.35,388.93 L114.63,388.97 L114.91,389.01 L115.19,389.04 L115.48,389.07 L115.76,389.10 L116.04,389.13 L116.32,389.16 L116.60,389.18 L116.88,389.21 L117.17,389.23 L117.45,389.25 L117.73,389.27 L118.01,389.28 L118.29,389.30 L118.58,389.32 L118.86,389.33 L119.14,389.34 L119.42,389.36 L119.70,389.37 L119.99,389.38 L120.59,389.50 Z" fill="#7d7d7d" stroke="#000" stroke-width="1.25" stroke-linejoin="round"/>
<rect x="87.8" y="332.2" width="13.8" height="17.6" fill="#ffffff" fill-opacity="0.84"/>
<path d="M70.9,353.4 H119.2 M70.9,350.9 V355.9 M119.2,350.9 V355.9" fill="none" stroke="#000" stroke-width="1.1"/>
<text x="94.7" y="338.7" text-anchor="middle" font-family='"Liberation Sans", Arial, sans-serif' font-size="4.9" fill="#000" stroke="#000" stroke-width="0.3">PE</text>
<text x="94.7" y="346.5" text-anchor="middle" font-family='"Liberation Sans", Arial, sans-serif' font-size="4.9" fill="#000" stroke="#000" stroke-width="0.2">100.0</text>
<path d="M21,286.4 V389.5" fill="none" stroke="#2a2a2a" stroke-width="0.9"/>
<path d="M18.4,389.5 H125.89999999999999" fill="none" stroke="#000" stroke-width="1.5"/>
<text x="15.8" y="296.6" text-anchor="end" font-family='"Liberation Sans", Arial, sans-serif' font-size="4.3" fill="#000" stroke="#000" stroke-width="0.16">300</text>
<text x="15.8" y="328.3" text-anchor="end" font-family='"Liberation Sans", Arial, sans-serif' font-size="4.3" fill="#000" stroke="#000" stroke-width="0.16">200</text>
<text x="15.8" y="360.0" text-anchor="end" font-family='"Liberation Sans", Arial, sans-serif' font-size="4.3" fill="#000" stroke="#000" stroke-width="0.16">100</text>
<text x="15.8" y="390.5" text-anchor="end" font-family='"Liberation Sans", Arial, sans-serif' font-size="4.3" fill="#000" stroke="#000" stroke-width="0.16">0</text>
<path d="M18.2,294.0 H21 M18.2,325.7 H21 M18.2,357.4 H21 M18.2,389.0 H21 " fill="none" stroke="#111" stroke-width="1.1"/>
<path d="M19.5,381.07 H21 M19.5,373.15 H21 M19.5,365.22 H21 M19.5,349.37 H21 M19.5,341.45 H21 M19.5,333.52 H21 M19.5,317.67 H21 M19.5,309.75 H21 M19.5,301.82 H21 " fill="none" stroke="#333" stroke-width="0.7"/>
<path d="M21.00,389.5 V392.7 M35.15,389.5 V392.7 M49.30,389.5 V392.7 M63.65,389.5 V392.7 M78.00,389.5 V392.7 M92.55,389.5 V392.7 M107.10,389.5 V392.7 M121.65,389.5 V392.7 " fill="none" stroke="#000" stroke-width="1.3"/>
<path d="M25.26,389.5 V391.4 M27.75,389.5 V391.4 M29.52,389.5 V391.4 M30.89,389.5 V391.4 M32.01,389.5 V391.4 M32.96,389.5 V391.4 M33.78,389.5 V391.4 M34.50,389.5 V391.4 M39.41,389.5 V391.4 M41.90,389.5 V391.4 M43.67,389.5 V391.4 M45.04,389.5 V391.4 M46.16,389.5 V391.4 M47.11,389.5 V391.4 M47.93,389.5 V391.4 M48.65,389.5 V391.4 M53.62,389.5 V391.4 M56.15,389.5 V391.4 M57.94,389.5 V391.4 M59.33,389.5 V391.4 M60.47,389.5 V391.4 M61.43,389.5 V391.4 M62.26,389.5 V391.4 M62.99,389.5 V391.4 M67.97,389.5 V391.4 M70.50,389.5 V391.4 M72.29,389.5 V391.4 M73.68,389.5 V391.4 M74.82,389.5 V391.4 M75.78,389.5 V391.4 M76.61,389.5 V391.4 M77.34,389.5 V391.4 M82.38,389.5 V391.4 M84.94,389.5 V391.4 M86.76,389.5 V391.4 M88.17,389.5 V391.4 M89.32,389.5 V391.4 M90.30,389.5 V391.4 M91.14,389.5 V391.4 M91.88,389.5 V391.4 M96.93,389.5 V391.4 M99.49,389.5 V391.4 M101.31,389.5 V391.4 M102.72,389.5 V391.4 M103.87,389.5 V391.4 M104.85,389.5 V391.4 M105.69,389.5 V391.4 M106.43,389.5 V391.4 M111.48,389.5 V391.4 M114.04,389.5 V391.4 M115.86,389.5 V391.4 M117.27,389.5 V391.4 M118.42,389.5 V391.4 M119.40,389.5 V391.4 M120.24,389.5 V391.4 M120.98,389.5 V391.4 " fill="none" stroke="#000" stroke-width="0.8"/>
<text x="25.900000000000002" y="400.2" text-anchor="middle" font-family='"Liberation Sans", Arial, sans-serif' font-size="4.3" fill="#000" stroke="#000" stroke-width="0.16">10</text>
<text x="29.7" y="398.0" text-anchor="middle" font-family='"Liberation Sans", Arial, sans-serif' font-size="4.2" fill="#000" stroke="#000" stroke-width="0.16">0</text>
<text x="50.4" y="400.2" text-anchor="middle" font-family='"Liberation Sans", Arial, sans-serif' font-size="4.3" fill="#000" stroke="#000" stroke-width="0.16">10</text>
<text x="54.199999999999996" y="398.0" text-anchor="middle" font-family='"Liberation Sans", Arial, sans-serif' font-size="4.2" fill="#000" stroke="#000" stroke-width="0.16">2</text>
<text x="79.1" y="400.2" text-anchor="middle" font-family='"Liberation Sans", Arial, sans-serif' font-size="4.3" fill="#000" stroke="#000" stroke-width="0.16">10</text>
<text x="82.9" y="398.0" text-anchor="middle" font-family='"Liberation Sans", Arial, sans-serif' font-size="4.2" fill="#000" stroke="#000" stroke-width="0.16">4</text>
<text x="108.69999999999999" y="400.2" text-anchor="middle" font-family='"Liberation Sans", Arial, sans-serif' font-size="4.3" fill="#000" stroke="#000" stroke-width="0.16">10</text>
<text x="112.5" y="398.0" text-anchor="middle" font-family='"Liberation Sans", Arial, sans-serif' font-size="4.2" fill="#000" stroke="#000" stroke-width="0.16">6</text>
<text transform="translate(6.4,339) rotate(-90)" text-anchor="middle" font-family='"Liberation Sans", Arial, sans-serif' font-size="4.9" fill="#000" stroke="#000" stroke-width="0.3">Count</text>
<text x="77.3" y="410.0" text-anchor="middle" font-family='"Liberation Serif", "Times New Roman", serif' font-weight="bold" font-size="8.2" fill="#000" stroke="#000" stroke-width="0.25">CD90</text>
<path d="M151.5,286.4 H255.2 V389.5" fill="none" stroke="#8c8c8c" stroke-width="0.9"/>
<path d="M202.74,389.50 L203.34,389.37 L203.54,389.36 L203.73,389.35 L203.93,389.33 L204.12,389.32 L204.32,389.30 L204.51,389.29 L204.71,389.27 L204.90,389.25 L205.10,389.22 L205.29,389.20 L205.49,389.17 L205.68,389.14 L205.88,389.11 L206.07,389.07 L206.26,389.03 L206.46,388.98 L206.65,388.93 L206.85,388.87 L207.04,388.81 L207.24,388.74 L207.43,388.65 L207.63,388.56 L207.82,388.45 L208.02,388.33 L208.21,388.19 L208.41,388.04 L208.60,387.86 L208.80,387.65 L208.99,387.41 L209.19,387.14 L209.38,386.83 L209.58,386.47 L209.77,386.06 L209.97,385.59 L210.16,385.06 L210.36,384.45 L210.55,383.75 L210.75,382.96 L210.94,382.06 L211.14,381.05 L211.33,379.90 L211.53,378.61 L211.72,377.17 L211.92,375.55 L212.11,373.75 L212.31,371.76 L212.50,369.55 L212.70,367.13 L212.89,364.47 L213.09,361.58 L213.28,358.44 L213.48,355.05 L213.67,351.43 L213.87,347.56 L214.06,343.48 L214.26,339.19 L214.45,334.73 L214.65,330.14 L214.84,325.45 L215.04,320.73 L215.23,316.06 L215.43,311.51 L215.62,307.19 L215.82,303.23 L216.01,299.80 L216.21,297.12 L216.40,295.70 L216.67,297.12 L216.93,299.80 L217.20,303.23 L217.47,307.19 L217.74,311.51 L218.00,316.06 L218.27,320.73 L218.54,325.45 L218.80,330.14 L219.07,334.73 L219.34,339.19 L219.61,343.48 L219.87,347.56 L220.14,351.43 L220.41,355.05 L220.67,358.44 L220.94,361.58 L221.21,364.47 L221.47,367.13 L221.74,369.55 L222.01,371.76 L222.28,373.75 L222.54,375.55 L222.81,377.17 L223.08,378.61 L223.34,379.90 L223.61,381.05 L223.88,382.06 L224.15,382.96 L224.41,383.75 L224.68,384.45 L224.95,385.06 L225.21,385.59 L225.48,386.06 L225.75,386.47 L226.02,386.83 L226.28,387.14 L226.55,387.41 L226.82,387.65 L227.08,387.86 L227.35,388.04 L227.62,388.19 L227.89,388.33 L228.15,388.45 L228.42,388.56 L228.69,388.65 L228.95,388.74 L229.22,388.81 L229.49,388.87 L229.75,388.93 L230.02,388.98 L230.29,389.03 L230.56,389.07 L230.82,389.11 L231.09,389.14 L231.36,389.17 L231.62,389.20 L231.89,389.22 L232.16,389.25 L232.43,389.27 L232.69,389.29 L232.96,389.30 L233.23,389.32 L233.49,389.33 L233.76,389.35 L234.03,389.36 L234.30,389.37 L234.90,389.50 Z" fill="#7d7d7d" stroke="#000" stroke-width="1.25" stroke-linejoin="round"/>
<rect x="218.3" y="332.4" width="12.8" height="17.4" fill="#ffffff" fill-opacity="0.84"/>
<path d="M201.2,353.7 H249.2 M201.2,351.2 V356.2 M249.2,351.2 V356.2" fill="none" stroke="#000" stroke-width="1.1"/>
<text x="224.7" y="338.9" text-anchor="middle" font-family='"Liberation Sans", Arial, sans-serif' font-size="4.9" fill="#000" stroke="#000" stroke-width="0.3">PE</text>
<text x="224.7" y="346.6" text-anchor="middle" font-family='"Liberation Sans", Arial, sans-serif' font-size="4.9" fill="#000" stroke="#000" stroke-width="0.2">99.8</text>
<path d="M151.5,286.4 V389.5" fill="none" stroke="#2a2a2a" stroke-width="0.9"/>
<path d="M148.9,389.5 H255.5" fill="none" stroke="#000" stroke-width="1.5"/>
<text x="146.3" y="290.8" text-anchor="end" font-family='"Liberation Sans", Arial, sans-serif' font-size="4.3" fill="#000" stroke="#000" stroke-width="0.16">400</text>
<text x="146.3" y="316.0" text-anchor="end" font-family='"Liberation Sans", Arial, sans-serif' font-size="4.3" fill="#000" stroke="#000" stroke-width="0.16">300</text>
<text x="146.3" y="341.20000000000005" text-anchor="end" font-family='"Liberation Sans", Arial, sans-serif' font-size="4.3" fill="#000" stroke="#000" stroke-width="0.16">200</text>
<text x="146.3" y="366.40000000000003" text-anchor="end" font-family='"Liberation Sans", Arial, sans-serif' font-size="4.3" fill="#000" stroke="#000" stroke-width="0.16">100</text>
<text x="146.3" y="390.5" text-anchor="end" font-family='"Liberation Sans", Arial, sans-serif' font-size="4.3" fill="#000" stroke="#000" stroke-width="0.16">0</text>
<path d="M148.7,288.2 H151.5 M148.7,313.4 H151.5 M148.7,338.6 H151.5 M148.7,363.8 H151.5 M148.7,389.0 H151.5 " fill="none" stroke="#111" stroke-width="1.1"/>
<path d="M150.0,382.70 H151.5 M150.0,376.40 H151.5 M150.0,370.10 H151.5 M150.0,357.50 H151.5 M150.0,351.20 H151.5 M150.0,344.90 H151.5 M150.0,332.30 H151.5 M150.0,326.00 H151.5 M150.0,319.70 H151.5 M150.0,307.10 H151.5 M150.0,300.80 H151.5 M150.0,294.50 H151.5 " fill="none" stroke="#333" stroke-width="0.7"/>
<path d="M151.50,389.5 V392.7 M165.70,389.5 V392.7 M179.90,389.5 V392.7 M194.10,389.5 V392.7 M208.30,389.5 V392.7 M222.70,389.5 V392.7 M237.10,389.5 V392.7 M251.50,389.5 V392.7 " fill="none" stroke="#000" stroke-width="1.3"/>
<path d="M155.77,389.5 V391.4 M158.28,389.5 V391.4 M160.05,389.5 V391.4 M161.43,389.5 V391.4 M162.55,389.5 V391.4 M163.50,389.5 V391.4 M164.32,389.5 V391.4 M165.05,389.5 V391.4 M169.97,389.5 V391.4 M172.48,389.5 V391.4 M174.25,389.5 V391.4 M175.63,389.5 V391.4 M176.75,389.5 V391.4 M177.70,389.5 V391.4 M178.52,389.5 V391.4 M179.25,389.5 V391.4 M184.17,389.5 V391.4 M186.68,389.5 V391.4 M188.45,389.5 V391.4 M189.83,389.5 V391.4 M190.95,389.5 V391.4 M191.90,389.5 V391.4 M192.72,389.5 V391.4 M193.45,389.5 V391.4 M198.37,389.5 V391.4 M200.88,389.5 V391.4 M202.65,389.5 V391.4 M204.03,389.5 V391.4 M205.15,389.5 V391.4 M206.10,389.5 V391.4 M206.92,389.5 V391.4 M207.65,389.5 V391.4 M212.63,389.5 V391.4 M215.17,389.5 V391.4 M216.97,389.5 V391.4 M218.37,389.5 V391.4 M219.51,389.5 V391.4 M220.47,389.5 V391.4 M221.30,389.5 V391.4 M222.04,389.5 V391.4 M227.03,389.5 V391.4 M229.57,389.5 V391.4 M231.37,389.5 V391.4 M232.77,389.5 V391.4 M233.91,389.5 V391.4 M234.87,389.5 V391.4 M235.70,389.5 V391.4 M236.44,389.5 V391.4 M241.43,389.5 V391.4 M243.97,389.5 V391.4 M245.77,389.5 V391.4 M247.17,389.5 V391.4 M248.31,389.5 V391.4 M249.27,389.5 V391.4 M250.10,389.5 V391.4 M250.84,389.5 V391.4 " fill="none" stroke="#000" stroke-width="0.8"/>
<text x="156.1" y="400.2" text-anchor="middle" font-family='"Liberation Sans", Arial, sans-serif' font-size="4.3" fill="#000" stroke="#000" stroke-width="0.16">10</text>
<text x="159.9" y="398.0" text-anchor="middle" font-family='"Liberation Sans", Arial, sans-serif' font-size="4.2" fill="#000" stroke="#000" stroke-width="0.16">0</text>
<text x="181.0" y="400.2" text-anchor="middle" font-family='"Liberation Sans", Arial, sans-serif' font-size="4.3" fill="#000" stroke="#000" stroke-width="0.16">10</text>
<text x="184.8" y="398.0" text-anchor="middle" font-family='"Liberation Sans", Arial, sans-serif' font-size="4.2" fill="#000" stroke="#000" stroke-width="0.16">2</text>
<text x="209.4" y="400.2" text-anchor="middle" font-family='"Liberation Sans", Arial, sans-serif' font-size="4.3" fill="#000" stroke="#000" stroke-width="0.16">10</text>
<text x="213.20000000000002" y="398.0" text-anchor="middle" font-family='"Liberation Sans", Arial, sans-serif' font-size="4.2" fill="#000" stroke="#000" stroke-width="0.16">4</text>
<text x="238.7" y="400.2" text-anchor="middle" font-family='"Liberation Sans", Arial, sans-serif' font-size="4.3" fill="#000" stroke="#000" stroke-width="0.16">10</text>
<text x="242.5" y="398.0" text-anchor="middle" font-family='"Liberation Sans", Arial, sans-serif' font-size="4.2" fill="#000" stroke="#000" stroke-width="0.16">6</text>
<text transform="translate(136.7,339) rotate(-90)" text-anchor="middle" font-family='"Liberation Sans", Arial, sans-serif' font-size="4.9" fill="#000" stroke="#000" stroke-width="0.3">Count</text>
<text x="205.9" y="410.0" text-anchor="middle" font-family='"Liberation Serif", "Times New Roman", serif' font-weight="bold" font-size="8.2" fill="#000" stroke="#000" stroke-width="0.25">CD105</text>
<path d="M280.9,286.5 H385.6 V389.5" fill="none" stroke="#8c8c8c" stroke-width="0.9"/>
<path d="M305.54,389.50 L306.14,389.37 L306.38,389.36 L306.62,389.35 L306.85,389.33 L307.09,389.32 L307.33,389.30 L307.57,389.28 L307.81,389.26 L308.05,389.24 L308.28,389.22 L308.52,389.19 L308.76,389.17 L309.00,389.13 L309.24,389.10 L309.47,389.06 L309.71,389.02 L309.95,388.97 L310.19,388.92 L310.43,388.86 L310.67,388.80 L310.90,388.72 L311.14,388.64 L311.38,388.55 L311.62,388.44 L311.86,388.31 L312.09,388.17 L312.33,388.01 L312.57,387.83 L312.81,387.62 L313.05,387.38 L313.29,387.10 L313.52,386.79 L313.76,386.42 L314.00,386.01 L314.24,385.53 L314.48,384.99 L314.72,384.37 L314.95,383.66 L315.19,382.86 L315.43,381.95 L315.67,380.92 L315.91,379.76 L316.14,378.45 L316.38,376.98 L316.62,375.34 L316.86,373.52 L317.10,371.49 L317.34,369.25 L317.57,366.79 L317.81,364.10 L318.05,361.16 L318.29,357.97 L318.53,354.54 L318.76,350.86 L319.00,346.94 L319.24,342.79 L319.48,338.44 L319.72,333.92 L319.96,329.25 L320.19,324.50 L320.43,319.71 L320.67,314.96 L320.91,310.34 L321.15,305.96 L321.39,301.94 L321.62,298.46 L321.86,295.74 L322.10,294.30 L322.34,295.74 L322.58,298.46 L322.81,301.94 L323.05,305.96 L323.29,310.34 L323.53,314.96 L323.77,319.71 L324.01,324.50 L324.24,329.25 L324.48,333.92 L324.72,338.44 L324.96,342.79 L325.20,346.94 L325.44,350.86 L325.67,354.54 L325.91,357.97 L326.15,361.16 L326.39,364.10 L326.63,366.79 L326.86,369.25 L327.10,371.49 L327.34,373.52 L327.58,375.34 L327.82,376.98 L328.06,378.45 L328.29,379.76 L328.53,380.92 L328.77,381.95 L329.01,382.86 L329.25,383.66 L329.48,384.37 L329.72,384.99 L329.96,385.53 L330.20,386.01 L330.44,386.42 L330.68,386.79 L330.91,387.10 L331.15,387.38 L331.39,387.62 L331.63,387.83 L331.87,388.01 L332.11,388.17 L332.34,388.31 L332.58,388.44 L332.82,388.55 L333.06,388.64 L333.30,388.72 L333.53,388.80 L333.77,388.86 L334.01,388.92 L334.25,388.97 L334.49,389.02 L334.73,389.06 L334.96,389.10 L335.20,389.13 L335.44,389.17 L335.68,389.19 L335.92,389.22 L336.15,389.24 L336.39,389.26 L336.63,389.28 L336.87,389.30 L337.11,389.32 L337.35,389.33 L337.58,389.35 L337.82,389.36 L338.06,389.37 L338.66,389.50 Z" fill="#7d7d7d" stroke="#000" stroke-width="1.25" stroke-linejoin="round"/>
<path d="M330.9,353.6 H379.2 M330.9,351.1 V356.1 M379.2,351.1 V356.1" fill="none" stroke="#000" stroke-width="1.1"/>
<text x="354.7" y="338.9" text-anchor="middle" font-family='"Liberation Sans", Arial, sans-serif' font-size="4.9" fill="#000" stroke="#000" stroke-width="0.3">PE</text>
<text x="354.7" y="346.8" text-anchor="middle" font-family='"Liberation Sans", Arial, sans-serif' font-size="4.9" fill="#000" stroke="#000" stroke-width="0.2">0.18</text>
<path d="M280.9,286.5 V389.5" fill="none" stroke="#2a2a2a" stroke-width="0.9"/>
<path d="M278.29999999999995,389.5 H385.90000000000003" fill="none" stroke="#000" stroke-width="1.5"/>
<text x="275.7" y="304.20000000000005" text-anchor="end" font-family='"Liberation Sans", Arial, sans-serif' font-size="4.3" fill="#000" stroke="#000" stroke-width="0.16">400</text>
<text x="275.7" y="326.0" text-anchor="end" font-family='"Liberation Sans", Arial, sans-serif' font-size="4.3" fill="#000" stroke="#000" stroke-width="0.16">300</text>
<text x="275.7" y="347.8" text-anchor="end" font-family='"Liberation Sans", Arial, sans-serif' font-size="4.3" fill="#000" stroke="#000" stroke-width="0.16">200</text>
<text x="275.7" y="369.6" text-anchor="end" font-family='"Liberation Sans", Arial, sans-serif' font-size="4.3" fill="#000" stroke="#000" stroke-width="0.16">100</text>
<text x="275.7" y="390.3" text-anchor="end" font-family='"Liberation Sans", Arial, sans-serif' font-size="4.3" fill="#000" stroke="#000" stroke-width="0.16">0</text>
<path d="M278.09999999999997,301.6 H280.9 M278.09999999999997,323.4 H280.9 M278.09999999999997,345.2 H280.9 M278.09999999999997,367.0 H280.9 M278.09999999999997,388.8 H280.9 " fill="none" stroke="#111" stroke-width="1.1"/>
<path d="M279.4,383.35 H280.9 M279.4,377.90 H280.9 M279.4,372.45 H280.9 M279.4,361.55 H280.9 M279.4,356.10 H280.9 M279.4,350.65 H280.9 M279.4,339.75 H280.9 M279.4,334.30 H280.9 M279.4,328.85 H280.9 M279.4,317.95 H280.9 M279.4,312.50 H280.9 M279.4,307.05 H280.9 M279.4,296.15 H280.9 M279.4,290.70 H280.9 " fill="none" stroke="#333" stroke-width="0.7"/>
<path d="M280.90,389.5 V392.7 M294.95,389.5 V392.7 M309.00,389.5 V392.7 M323.50,389.5 V392.7 M338.00,389.5 V392.7 M352.55,389.5 V392.7 M367.10,389.5 V392.7 M381.65,389.5 V392.7 " fill="none" stroke="#000" stroke-width="1.3"/>
<path d="M285.13,389.5 V391.4 M287.60,389.5 V391.4 M289.36,389.5 V391.4 M290.72,389.5 V391.4 M291.83,389.5 V391.4 M292.77,389.5 V391.4 M293.59,389.5 V391.4 M294.31,389.5 V391.4 M299.18,389.5 V391.4 M301.65,389.5 V391.4 M303.41,389.5 V391.4 M304.77,389.5 V391.4 M305.88,389.5 V391.4 M306.82,389.5 V391.4 M307.64,389.5 V391.4 M308.36,389.5 V391.4 M313.36,389.5 V391.4 M315.92,389.5 V391.4 M317.73,389.5 V391.4 M319.14,389.5 V391.4 M320.28,389.5 V391.4 M321.25,389.5 V391.4 M322.09,389.5 V391.4 M322.84,389.5 V391.4 M327.86,389.5 V391.4 M330.42,389.5 V391.4 M332.23,389.5 V391.4 M333.64,389.5 V391.4 M334.78,389.5 V391.4 M335.75,389.5 V391.4 M336.59,389.5 V391.4 M337.34,389.5 V391.4 M342.38,389.5 V391.4 M344.94,389.5 V391.4 M346.76,389.5 V391.4 M348.17,389.5 V391.4 M349.32,389.5 V391.4 M350.30,389.5 V391.4 M351.14,389.5 V391.4 M351.88,389.5 V391.4 M356.93,389.5 V391.4 M359.49,389.5 V391.4 M361.31,389.5 V391.4 M362.72,389.5 V391.4 M363.87,389.5 V391.4 M364.85,389.5 V391.4 M365.69,389.5 V391.4 M366.43,389.5 V391.4 M371.48,389.5 V391.4 M374.04,389.5 V391.4 M375.86,389.5 V391.4 M377.27,389.5 V391.4 M378.42,389.5 V391.4 M379.40,389.5 V391.4 M380.24,389.5 V391.4 M380.98,389.5 V391.4 " fill="none" stroke="#000" stroke-width="0.8"/>
<text x="285.3" y="400.2" text-anchor="middle" font-family='"Liberation Sans", Arial, sans-serif' font-size="4.3" fill="#000" stroke="#000" stroke-width="0.16">10</text>
<text x="289.09999999999997" y="398.0" text-anchor="middle" font-family='"Liberation Sans", Arial, sans-serif' font-size="4.2" fill="#000" stroke="#000" stroke-width="0.16">0</text>
<text x="310.1" y="400.2" text-anchor="middle" font-family='"Liberation Sans", Arial, sans-serif' font-size="4.3" fill="#000" stroke="#000" stroke-width="0.16">10</text>
<text x="313.9" y="398.0" text-anchor="middle" font-family='"Liberation Sans", Arial, sans-serif' font-size="4.2" fill="#000" stroke="#000" stroke-width="0.16">2</text>
<text x="339.1" y="400.2" text-anchor="middle" font-family='"Liberation Sans", Arial, sans-serif' font-size="4.3" fill="#000" stroke="#000" stroke-width="0.16">10</text>
<text x="342.9" y="398.0" text-anchor="middle" font-family='"Liberation Sans", Arial, sans-serif' font-size="4.2" fill="#000" stroke="#000" stroke-width="0.16">4</text>
<text x="368.70000000000005" y="400.2" text-anchor="middle" font-family='"Liberation Sans", Arial, sans-serif' font-size="4.3" fill="#000" stroke="#000" stroke-width="0.16">10</text>
<text x="372.5" y="398.0" text-anchor="middle" font-family='"Liberation Sans", Arial, sans-serif' font-size="4.2" fill="#000" stroke="#000" stroke-width="0.16">6</text>
<text transform="translate(266.2,339) rotate(-90)" text-anchor="middle" font-family='"Liberation Sans", Arial, sans-serif' font-size="4.9" fill="#000" stroke="#000" stroke-width="0.3">Count</text>
<text x="335" y="410.0" text-anchor="middle" font-family='"Liberation Serif", "Times New Roman", serif' font-weight="bold" font-size="8.2" fill="#000" stroke="#000" stroke-width="0.25">HLA-DR</text>
<path d="M20,416.2 H125.8 V520.8" fill="none" stroke="#8c8c8c" stroke-width="0.9"/>
<path d="M56.01,520.80 L56.61,520.68 L56.78,520.67 L56.94,520.66 L57.11,520.64 L57.27,520.63 L57.44,520.61 L57.61,520.60 L57.77,520.58 L57.94,520.56 L58.10,520.54 L58.27,520.52 L58.44,520.49 L58.60,520.46 L58.77,520.43 L58.93,520.40 L59.10,520.36 L59.27,520.32 L59.43,520.27 L59.60,520.22 L59.76,520.16 L59.93,520.09 L60.10,520.01 L60.26,519.93 L60.43,519.83 L60.59,519.72 L60.76,519.60 L60.93,519.46 L61.09,519.30 L61.26,519.11 L61.42,518.90 L61.59,518.66 L61.76,518.38 L61.92,518.06 L62.09,517.69 L62.25,517.27 L62.42,516.79 L62.59,516.24 L62.75,515.61 L62.92,514.90 L63.09,514.08 L63.25,513.16 L63.42,512.12 L63.58,510.94 L63.75,509.62 L63.92,508.14 L64.08,506.48 L64.25,504.63 L64.41,502.58 L64.58,500.32 L64.75,497.83 L64.91,495.10 L65.08,492.13 L65.24,488.91 L65.41,485.44 L65.58,481.71 L65.74,477.75 L65.91,473.55 L66.07,469.15 L66.24,464.57 L66.41,459.86 L66.57,455.04 L66.74,450.20 L66.90,445.40 L67.07,440.73 L67.24,436.29 L67.40,432.23 L67.57,428.70 L67.73,425.96 L67.90,424.50 L68.08,425.96 L68.25,428.70 L68.43,432.23 L68.61,436.29 L68.78,440.73 L68.96,445.40 L69.14,450.20 L69.31,455.04 L69.49,459.86 L69.67,464.57 L69.85,469.15 L70.02,473.55 L70.20,477.75 L70.38,481.71 L70.55,485.44 L70.73,488.91 L70.91,492.13 L71.08,495.10 L71.26,497.83 L71.44,500.32 L71.61,502.58 L71.79,504.63 L71.97,506.48 L72.14,508.14 L72.32,509.62 L72.50,510.94 L72.68,512.12 L72.85,513.16 L73.03,514.08 L73.21,514.90 L73.38,515.61 L73.56,516.24 L73.74,516.79 L73.91,517.27 L74.09,517.69 L74.27,518.06 L74.44,518.38 L74.62,518.66 L74.80,518.90 L74.97,519.11 L75.15,519.30 L75.33,519.46 L75.50,519.60 L75.68,519.72 L75.86,519.83 L76.04,519.93 L76.21,520.01 L76.39,520.09 L76.57,520.16 L76.74,520.22 L76.92,520.27 L77.10,520.32 L77.27,520.36 L77.45,520.40 L77.63,520.43 L77.80,520.46 L77.98,520.49 L78.16,520.52 L78.33,520.54 L78.51,520.56 L78.69,520.58 L78.87,520.60 L79.04,520.61 L79.22,520.63 L79.40,520.64 L79.57,520.66 L79.75,520.67 L79.93,520.68 L80.53,520.80 Z" fill="#7d7d7d" stroke="#000" stroke-width="1.25" stroke-linejoin="round"/>
<path d="M78.9,481.8 H119.5 M78.9,479.3 V484.3 M119.5,479.3 V484.3" fill="none" stroke="#000" stroke-width="1.1"/>
<text x="99.2" y="468.0" text-anchor="middle" font-family='"Liberation Sans", Arial, sans-serif' font-size="4.9" fill="#000" stroke="#000" stroke-width="0.3">FITC</text>
<text x="99.2" y="475.7" text-anchor="middle" font-family='"Liberation Sans", Arial, sans-serif' font-size="4.9" fill="#000" stroke="#000" stroke-width="0.2">0</text>
<path d="M20,416.2 V520.8" fill="none" stroke="#2a2a2a" stroke-width="0.9"/>
<path d="M17.4,520.8 H126.1" fill="none" stroke="#000" stroke-width="1.5"/>
<text x="14.8" y="433.40000000000003" text-anchor="end" font-family='"Liberation Sans", Arial, sans-serif' font-size="4.3" fill="#000" stroke="#000" stroke-width="0.16">500</text>
<text x="14.8" y="451.20000000000005" text-anchor="end" font-family='"Liberation Sans", Arial, sans-serif' font-size="4.3" fill="#000" stroke="#000" stroke-width="0.16">400</text>
<text x="14.8" y="469.0" text-anchor="end" font-family='"Liberation Sans", Arial, sans-serif' font-size="4.3" fill="#000" stroke="#000" stroke-width="0.16">300</text>
<text x="14.8" y="486.8" text-anchor="end" font-family='"Liberation Sans", Arial, sans-serif' font-size="4.3" fill="#000" stroke="#000" stroke-width="0.16">200</text>
<text x="14.8" y="504.6" text-anchor="end" font-family='"Liberation Sans", Arial, sans-serif' font-size="4.3" fill="#000" stroke="#000" stroke-width="0.16">100</text>
<text x="14.8" y="521.3" text-anchor="end" font-family='"Liberation Sans", Arial, sans-serif' font-size="4.3" fill="#000" stroke="#000" stroke-width="0.16">0</text>
<path d="M17.2,430.8 H20 M17.2,448.6 H20 M17.2,466.4 H20 M17.2,484.2 H20 M17.2,502.0 H20 M17.2,519.8 H20 " fill="none" stroke="#111" stroke-width="1.1"/>
<path d="M18.5,515.35 H20 M18.5,510.90 H20 M18.5,506.45 H20 M18.5,497.55 H20 M18.5,493.10 H20 M18.5,488.65 H20 M18.5,479.75 H20 M18.5,475.30 H20 M18.5,470.85 H20 M18.5,461.95 H20 M18.5,457.50 H20 M18.5,453.05 H20 M18.5,444.15 H20 M18.5,439.70 H20 M18.5,435.25 H20 M18.5,426.35 H20 M18.5,421.90 H20 M18.5,417.45 H20 " fill="none" stroke="#333" stroke-width="0.7"/>
<path d="M20.00,520.8 V524.0 M34.55,520.8 V524.0 M49.10,520.8 V524.0 M63.55,520.8 V524.0 M78.00,520.8 V524.0 M92.65,520.8 V524.0 M107.30,520.8 V524.0 M121.95,520.8 V524.0 " fill="none" stroke="#000" stroke-width="1.3"/>
<path d="M24.38,520.8 V522.6999999999999 M26.94,520.8 V522.6999999999999 M28.76,520.8 V522.6999999999999 M30.17,520.8 V522.6999999999999 M31.32,520.8 V522.6999999999999 M32.30,520.8 V522.6999999999999 M33.14,520.8 V522.6999999999999 M33.88,520.8 V522.6999999999999 M38.93,520.8 V522.6999999999999 M41.49,520.8 V522.6999999999999 M43.31,520.8 V522.6999999999999 M44.72,520.8 V522.6999999999999 M45.87,520.8 V522.6999999999999 M46.85,520.8 V522.6999999999999 M47.69,520.8 V522.6999999999999 M48.43,520.8 V522.6999999999999 M53.45,520.8 V522.6999999999999 M55.99,520.8 V522.6999999999999 M57.80,520.8 V522.6999999999999 M59.20,520.8 V522.6999999999999 M60.34,520.8 V522.6999999999999 M61.31,520.8 V522.6999999999999 M62.15,520.8 V522.6999999999999 M62.89,520.8 V522.6999999999999 M67.90,520.8 V522.6999999999999 M70.44,520.8 V522.6999999999999 M72.25,520.8 V522.6999999999999 M73.65,520.8 V522.6999999999999 M74.79,520.8 V522.6999999999999 M75.76,520.8 V522.6999999999999 M76.60,520.8 V522.6999999999999 M77.34,520.8 V522.6999999999999 M82.41,520.8 V522.6999999999999 M84.99,520.8 V522.6999999999999 M86.82,520.8 V522.6999999999999 M88.24,520.8 V522.6999999999999 M89.40,520.8 V522.6999999999999 M90.38,520.8 V522.6999999999999 M91.23,520.8 V522.6999999999999 M91.98,520.8 V522.6999999999999 M97.06,520.8 V522.6999999999999 M99.64,520.8 V522.6999999999999 M101.47,520.8 V522.6999999999999 M102.89,520.8 V522.6999999999999 M104.05,520.8 V522.6999999999999 M105.03,520.8 V522.6999999999999 M105.88,520.8 V522.6999999999999 M106.63,520.8 V522.6999999999999 M111.71,520.8 V522.6999999999999 M114.29,520.8 V522.6999999999999 M116.12,520.8 V522.6999999999999 M117.54,520.8 V522.6999999999999 M118.70,520.8 V522.6999999999999 M119.68,520.8 V522.6999999999999 M120.53,520.8 V522.6999999999999 M121.28,520.8 V522.6999999999999 " fill="none" stroke="#000" stroke-width="0.8"/>
<text x="25.400000000000002" y="532.1999999999999" text-anchor="middle" font-family='"Liberation Sans", Arial, sans-serif' font-size="4.3" fill="#000" stroke="#000" stroke-width="0.16">10</text>
<text x="29.2" y="530.0" text-anchor="middle" font-family='"Liberation Sans", Arial, sans-serif' font-size="4.2" fill="#000" stroke="#000" stroke-width="0.16">0</text>
<text x="50.2" y="532.1999999999999" text-anchor="middle" font-family='"Liberation Sans", Arial, sans-serif' font-size="4.3" fill="#000" stroke="#000" stroke-width="0.16">10</text>
<text x="54.0" y="530.0" text-anchor="middle" font-family='"Liberation Sans", Arial, sans-serif' font-size="4.2" fill="#000" stroke="#000" stroke-width="0.16">2</text>
<text x="79.1" y="532.1999999999999" text-anchor="middle" font-family='"Liberation Sans", Arial, sans-serif' font-size="4.3" fill="#000" stroke="#000" stroke-width="0.16">10</text>
<text x="82.9" y="530.0" text-anchor="middle" font-family='"Liberation Sans", Arial, sans-serif' font-size="4.2" fill="#000" stroke="#000" stroke-width="0.16">4</text>
<text x="108.89999999999999" y="532.1999999999999" text-anchor="middle" font-family='"Liberation Sans", Arial, sans-serif' font-size="4.3" fill="#000" stroke="#000" stroke-width="0.16">10</text>
<text x="112.7" y="530.0" text-anchor="middle" font-family='"Liberation Sans", Arial, sans-serif' font-size="4.2" fill="#000" stroke="#000" stroke-width="0.16">6</text>
<text transform="translate(5.4,467.9) rotate(-90)" text-anchor="middle" font-family='"Liberation Sans", Arial, sans-serif' font-size="4.9" fill="#000" stroke="#000" stroke-width="0.3">Count</text>
<text x="74" y="543.3" text-anchor="middle" font-family='"Liberation Serif", "Times New Roman", serif' font-weight="bold" font-size="7.7" fill="#000" stroke="#000" stroke-width="0.25">FITC-Control</text>
<path d="M151.7,417.4 H256.8 V520.8" fill="none" stroke="#8c8c8c" stroke-width="0.9"/>
<path d="M179.60,520.80 L180.20,520.68 L180.40,520.67 L180.60,520.66 L180.80,520.64 L180.99,520.63 L181.19,520.61 L181.39,520.60 L181.59,520.58 L181.79,520.56 L181.99,520.54 L182.19,520.52 L182.38,520.49 L182.58,520.46 L182.78,520.43 L182.98,520.40 L183.18,520.36 L183.38,520.32 L183.58,520.27 L183.77,520.22 L183.97,520.16 L184.17,520.09 L184.37,520.01 L184.57,519.93 L184.77,519.83 L184.97,519.72 L185.16,519.60 L185.36,519.46 L185.56,519.30 L185.76,519.11 L185.96,518.90 L186.16,518.66 L186.35,518.38 L186.55,518.06 L186.75,517.69 L186.95,517.27 L187.15,516.79 L187.35,516.24 L187.55,515.61 L187.74,514.90 L187.94,514.08 L188.14,513.16 L188.34,512.12 L188.54,510.94 L188.74,509.62 L188.94,508.14 L189.13,506.48 L189.33,504.63 L189.53,502.58 L189.73,500.32 L189.93,497.83 L190.13,495.10 L190.33,492.13 L190.52,488.91 L190.72,485.44 L190.92,481.71 L191.12,477.75 L191.32,473.55 L191.52,469.15 L191.71,464.57 L191.91,459.86 L192.11,455.04 L192.31,450.20 L192.51,445.40 L192.71,440.73 L192.91,436.29 L193.10,432.23 L193.30,428.70 L193.50,425.96 L193.70,424.50 L193.91,425.96 L194.11,428.70 L194.32,432.23 L194.52,436.29 L194.73,440.73 L194.93,445.40 L195.14,450.20 L195.35,455.04 L195.55,459.86 L195.76,464.57 L195.96,469.15 L196.17,473.55 L196.37,477.75 L196.58,481.71 L196.79,485.44 L196.99,488.91 L197.20,492.13 L197.40,495.10 L197.61,497.83 L197.81,500.32 L198.02,502.58 L198.23,504.63 L198.43,506.48 L198.64,508.14 L198.84,509.62 L199.05,510.94 L199.25,512.12 L199.46,513.16 L199.67,514.08 L199.87,514.90 L200.08,515.61 L200.28,516.24 L200.49,516.79 L200.69,517.27 L200.90,517.69 L201.11,518.06 L201.31,518.38 L201.52,518.66 L201.72,518.90 L201.93,519.11 L202.14,519.30 L202.34,519.46 L202.55,519.60 L202.75,519.72 L202.96,519.83 L203.16,519.93 L203.37,520.01 L203.58,520.09 L203.78,520.16 L203.99,520.22 L204.19,520.27 L204.40,520.32 L204.60,520.36 L204.81,520.40 L205.02,520.43 L205.22,520.46 L205.43,520.49 L205.63,520.52 L205.84,520.54 L206.04,520.56 L206.25,520.58 L206.46,520.60 L206.66,520.61 L206.87,520.63 L207.07,520.64 L207.28,520.66 L207.48,520.67 L207.69,520.68 L208.29,520.80 Z" fill="#4f4f4f" stroke="#000" stroke-width="1.25" stroke-linejoin="round"/>
<path d="M202.4,484.2 H254.2 M202.4,481.7 V486.7 M254.2,481.7 V486.7" fill="none" stroke="#000" stroke-width="1.1"/>
<text x="228.2" y="470.9" text-anchor="middle" font-family='"Liberation Sans", Arial, sans-serif' font-size="4.9" fill="#000" stroke="#000" stroke-width="0.3">PE</text>
<text x="228.2" y="478.3" text-anchor="middle" font-family='"Liberation Sans", Arial, sans-serif' font-size="4.9" fill="#000" stroke="#000" stroke-width="0.2">0.057</text>
<path d="M151.7,417.4 V520.8" fill="none" stroke="#2a2a2a" stroke-width="0.9"/>
<path d="M149.1,520.8 H257.1" fill="none" stroke="#000" stroke-width="1.5"/>
<text x="146.5" y="434.6" text-anchor="end" font-family='"Liberation Sans", Arial, sans-serif' font-size="4.3" fill="#000" stroke="#000" stroke-width="0.16">400</text>
<text x="146.5" y="456.6" text-anchor="end" font-family='"Liberation Sans", Arial, sans-serif' font-size="4.3" fill="#000" stroke="#000" stroke-width="0.16">300</text>
<text x="146.5" y="478.6" text-anchor="end" font-family='"Liberation Sans", Arial, sans-serif' font-size="4.3" fill="#000" stroke="#000" stroke-width="0.16">200</text>
<text x="146.5" y="500.6" text-anchor="end" font-family='"Liberation Sans", Arial, sans-serif' font-size="4.3" fill="#000" stroke="#000" stroke-width="0.16">100</text>
<text x="146.5" y="521.3" text-anchor="end" font-family='"Liberation Sans", Arial, sans-serif' font-size="4.3" fill="#000" stroke="#000" stroke-width="0.16">0</text>
<path d="M148.89999999999998,432.0 H151.7 M148.89999999999998,454.0 H151.7 M148.89999999999998,476.0 H151.7 M148.89999999999998,498.0 H151.7 M148.89999999999998,519.8 H151.7 " fill="none" stroke="#111" stroke-width="1.1"/>
<path d="M150.2,514.30 H151.7 M150.2,508.80 H151.7 M150.2,503.30 H151.7 M150.2,492.30 H151.7 M150.2,486.80 H151.7 M150.2,481.30 H151.7 M150.2,470.30 H151.7 M150.2,464.80 H151.7 M150.2,459.30 H151.7 M150.2,448.30 H151.7 M150.2,442.80 H151.7 M150.2,437.30 H151.7 M150.2,426.30 H151.7 M150.2,420.80 H151.7 " fill="none" stroke="#333" stroke-width="0.7"/>
<path d="M151.70,520.8 V524.0 M166.15,520.8 V524.0 M180.60,520.8 V524.0 M195.35,520.8 V524.0 M210.10,520.8 V524.0 M224.70,520.8 V524.0 M239.30,520.8 V524.0 M253.90,520.8 V524.0 " fill="none" stroke="#000" stroke-width="1.3"/>
<path d="M156.05,520.8 V522.6999999999999 M158.59,520.8 V522.6999999999999 M160.40,520.8 V522.6999999999999 M161.80,520.8 V522.6999999999999 M162.94,520.8 V522.6999999999999 M163.91,520.8 V522.6999999999999 M164.75,520.8 V522.6999999999999 M165.49,520.8 V522.6999999999999 M170.50,520.8 V522.6999999999999 M173.04,520.8 V522.6999999999999 M174.85,520.8 V522.6999999999999 M176.25,520.8 V522.6999999999999 M177.39,520.8 V522.6999999999999 M178.36,520.8 V522.6999999999999 M179.20,520.8 V522.6999999999999 M179.94,520.8 V522.6999999999999 M185.04,520.8 V522.6999999999999 M187.64,520.8 V522.6999999999999 M189.48,520.8 V522.6999999999999 M190.91,520.8 V522.6999999999999 M192.08,520.8 V522.6999999999999 M193.07,520.8 V522.6999999999999 M193.92,520.8 V522.6999999999999 M194.68,520.8 V522.6999999999999 M199.79,520.8 V522.6999999999999 M202.39,520.8 V522.6999999999999 M204.23,520.8 V522.6999999999999 M205.66,520.8 V522.6999999999999 M206.83,520.8 V522.6999999999999 M207.82,520.8 V522.6999999999999 M208.67,520.8 V522.6999999999999 M209.43,520.8 V522.6999999999999 M214.50,520.8 V522.6999999999999 M217.07,520.8 V522.6999999999999 M218.89,520.8 V522.6999999999999 M220.30,520.8 V522.6999999999999 M221.46,520.8 V522.6999999999999 M222.44,520.8 V522.6999999999999 M223.29,520.8 V522.6999999999999 M224.03,520.8 V522.6999999999999 M229.10,520.8 V522.6999999999999 M231.67,520.8 V522.6999999999999 M233.49,520.8 V522.6999999999999 M234.90,520.8 V522.6999999999999 M236.06,520.8 V522.6999999999999 M237.04,520.8 V522.6999999999999 M237.89,520.8 V522.6999999999999 M238.63,520.8 V522.6999999999999 M243.70,520.8 V522.6999999999999 M246.27,520.8 V522.6999999999999 M248.09,520.8 V522.6999999999999 M249.50,520.8 V522.6999999999999 M250.66,520.8 V522.6999999999999 M251.64,520.8 V522.6999999999999 M252.49,520.8 V522.6999999999999 M253.23,520.8 V522.6999999999999 " fill="none" stroke="#000" stroke-width="0.8"/>
<text x="156.2" y="532.1999999999999" text-anchor="middle" font-family='"Liberation Sans", Arial, sans-serif' font-size="4.3" fill="#000" stroke="#000" stroke-width="0.16">10</text>
<text x="160.0" y="530.0" text-anchor="middle" font-family='"Liberation Sans", Arial, sans-serif' font-size="4.2" fill="#000" stroke="#000" stroke-width="0.16">0</text>
<text x="181.7" y="532.1999999999999" text-anchor="middle" font-family='"Liberation Sans", Arial, sans-serif' font-size="4.3" fill="#000" stroke="#000" stroke-width="0.16">10</text>
<text x="185.5" y="530.0" text-anchor="middle" font-family='"Liberation Sans", Arial, sans-serif' font-size="4.2" fill="#000" stroke="#000" stroke-width="0.16">2</text>
<text x="211.2" y="532.1999999999999" text-anchor="middle" font-family='"Liberation Sans", Arial, sans-serif' font-size="4.3" fill="#000" stroke="#000" stroke-width="0.16">10</text>
<text x="215.0" y="530.0" text-anchor="middle" font-family='"Liberation Sans", Arial, sans-serif' font-size="4.2" fill="#000" stroke="#000" stroke-width="0.16">4</text>
<text x="240.9" y="532.1999999999999" text-anchor="middle" font-family='"Liberation Sans", Arial, sans-serif' font-size="4.3" fill="#000" stroke="#000" stroke-width="0.16">10</text>
<text x="244.70000000000002" y="530.0" text-anchor="middle" font-family='"Liberation Sans", Arial, sans-serif' font-size="4.2" fill="#000" stroke="#000" stroke-width="0.16">6</text>
<text transform="translate(137.0,469.7) rotate(-90)" text-anchor="middle" font-family='"Liberation Sans", Arial, sans-serif' font-size="4.9" fill="#000" stroke="#000" stroke-width="0.3">Count</text>
<text x="206.8" y="543.3" text-anchor="middle" font-family='"Liberation Serif", "Times New Roman", serif' font-weight="bold" font-size="7.75" fill="#000" stroke="#000" stroke-width="0.25">PE-Control</text>
<text x="-0.2" y="11.6" font-family='"Liberation Serif", "Times New Roman", serif' font-size="17" fill="#000" stroke="#000" stroke-width="0.25">A</text>
<text x="394.9" y="12.0" font-family='"Liberation Serif", "Times New Roman", serif' font-size="17.2" fill="#000" stroke="#000" stroke-width="0.3">B</text>
<path d="M443.2,149.79999999999998 V320.19999999999993" stroke="#000" stroke-width="1.8" fill="none"/>
<path d="M443.2,330.3 V403.2" stroke="#000" stroke-width="1.8" fill="none"/>
<path d="M442.3,403.2 H777" stroke="#000" stroke-width="1.7" fill="none"/>
<path d="M438.7,150.70 H443.2 M438.7,184.42 H443.2 M438.7,218.14 H443.2 M438.7,251.86 H443.2 M438.7,285.58 H443.2 M438.7,319.30 H447.7 M438.7,331.20 H447.7 M438.7,349.20 H443.2 M438.7,367.20 H443.2 M438.7,385.20 H443.2 M438.7,403.20 H443.2 " stroke="#000" stroke-width="1.6" fill="none"/>
<text transform="translate(437.59999999999997,154.8) scale(0.8060,1)" text-anchor="end" font-family='"Liberation Sans", Arial, sans-serif' font-weight="bold" fill="#000" stroke="#000" stroke-width="0.3" font-size="11.6">100</text>
<text transform="translate(437.59999999999997,188.52) scale(0.8215,1)" text-anchor="end" font-family='"Liberation Sans", Arial, sans-serif' font-weight="bold" fill="#000" stroke="#000" stroke-width="0.3" font-size="11.6">99</text>
<text transform="translate(437.59999999999997,222.24) scale(0.8215,1)" text-anchor="end" font-family='"Liberation Sans", Arial, sans-serif' font-weight="bold" fill="#000" stroke="#000" stroke-width="0.3" font-size="11.6">98</text>
<text transform="translate(437.59999999999997,255.96) scale(0.8215,1)" text-anchor="end" font-family='"Liberation Sans", Arial, sans-serif' font-weight="bold" fill="#000" stroke="#000" stroke-width="0.3" font-size="11.6">97</text>
<text transform="translate(437.59999999999997,289.68) scale(0.8215,1)" text-anchor="end" font-family='"Liberation Sans", Arial, sans-serif' font-weight="bold" fill="#000" stroke="#000" stroke-width="0.3" font-size="11.6">96</text>
<text transform="translate(437.59999999999997,323.4) scale(0.8215,1)" text-anchor="end" font-family='"Liberation Sans", Arial, sans-serif' font-weight="bold" fill="#000" stroke="#000" stroke-width="0.3" font-size="11.6">95</text>
<text transform="translate(437.59999999999997,335.3) scale(0.8434,1)" text-anchor="end" font-family='"Liberation Sans", Arial, sans-serif' font-weight="bold" fill="#000" stroke="#000" stroke-width="0.3" font-size="11.6">2.0</text>
<text transform="translate(437.59999999999997,353.3) scale(0.8434,1)" text-anchor="end" font-family='"Liberation Sans", Arial, sans-serif' font-weight="bold" fill="#000" stroke="#000" stroke-width="0.3" font-size="11.6">1.5</text>
<text transform="translate(437.59999999999997,371.3) scale(0.8434,1)" text-anchor="end" font-family='"Liberation Sans", Arial, sans-serif' font-weight="bold" fill="#000" stroke="#000" stroke-width="0.3" font-size="11.6">1.0</text>
<text transform="translate(437.59999999999997,389.3) scale(0.8434,1)" text-anchor="end" font-family='"Liberation Sans", Arial, sans-serif' font-weight="bold" fill="#000" stroke="#000" stroke-width="0.3" font-size="11.6">0.5</text>
<text transform="translate(437.59999999999997,407.3) scale(0.8434,1)" text-anchor="end" font-family='"Liberation Sans", Arial, sans-serif' font-weight="bold" fill="#000" stroke="#000" stroke-width="0.3" font-size="11.6">0.0</text>
<text transform="translate(464.0,419.3) scale(0.8969,1)" text-anchor="middle" font-family='"Liberation Sans", Arial, sans-serif' font-weight="bold" fill="#000" stroke="#000" stroke-width="0.3" font-size="11.6">CD14</text>
<text transform="translate(505.5,419.3) scale(0.8969,1)" text-anchor="middle" font-family='"Liberation Sans", Arial, sans-serif' font-weight="bold" fill="#000" stroke="#000" stroke-width="0.3" font-size="11.6">CD19</text>
<text transform="translate(547.0,419.3) scale(0.8969,1)" text-anchor="middle" font-family='"Liberation Sans", Arial, sans-serif' font-weight="bold" fill="#000" stroke="#000" stroke-width="0.3" font-size="11.6">CD34</text>
<text transform="translate(588.5,419.3) scale(0.8969,1)" text-anchor="middle" font-family='"Liberation Sans", Arial, sans-serif' font-weight="bold" fill="#000" stroke="#000" stroke-width="0.3" font-size="11.6">CD45</text>
<text transform="translate(630.0,419.3) scale(0.8969,1)" text-anchor="middle" font-family='"Liberation Sans", Arial, sans-serif' font-weight="bold" fill="#000" stroke="#000" stroke-width="0.3" font-size="11.6">CD73</text>
<text transform="translate(671.5,419.3) scale(0.8969,1)" text-anchor="middle" font-family='"Liberation Sans", Arial, sans-serif' font-weight="bold" fill="#000" stroke="#000" stroke-width="0.3" font-size="11.6">CD90</text>
<text transform="translate(713.0,419.3) scale(0.9215,1)" text-anchor="middle" font-family='"Liberation Sans", Arial, sans-serif' font-weight="bold" fill="#000" stroke="#000" stroke-width="0.3" font-size="11.6">C9105</text>
<text transform="translate(754.5,419.3) scale(0.8772,1)" text-anchor="middle" font-family='"Liberation Sans", Arial, sans-serif' font-weight="bold" fill="#000" stroke="#000" stroke-width="0.3" font-size="11.6">HLA-DR</text>
<path d="M464.00,403.2 V408.0 M505.50,403.2 V408.0 M547.00,403.2 V408.0 M588.50,403.2 V408.0 M630.00,403.2 V408.0 M671.50,403.2 V408.0 M713.00,403.2 V408.0 M754.50,403.2 V408.0 " stroke="#000" stroke-width="1.6" fill="none"/>
<text transform="translate(606.1,131.3) scale(0.8627,1)" text-anchor="middle" font-family='"Liberation Sans", Arial, sans-serif' font-weight="bold" fill="#000" stroke="#000" stroke-width="0.3" font-size="15.6">Phenotype</text>
<text transform="translate(608.8,437.6) scale(0.9265,1)" text-anchor="middle" font-family='"Liberation Sans", Arial, sans-serif' font-weight="bold" fill="#000" stroke="#000" stroke-width="0.3" font-size="12.2">Surface markers</text>
<text transform="translate(406.3,277.4) rotate(-90) scale(1.1443,1)" text-anchor="middle" font-family='"Liberation Sans", Arial, sans-serif' font-weight="bold" fill="#000" stroke="#000" stroke-width="0.3" font-size="11.5">Percent (%)</text>
<circle cx="464.0" cy="352.9" r="3.2" fill="#1c1c1c"/>
<circle cx="464.0" cy="388.0" r="3.1" fill="#1c1c1c"/>
<circle cx="452.3" cy="395.3" r="3.1" fill="#1c1c1c"/>
<circle cx="475.7" cy="395.3" r="3.1" fill="#1c1c1c"/>
<circle cx="458.0" cy="397.0" r="3.1" fill="#1c1c1c"/>
<circle cx="464.0" cy="396.5" r="3.1" fill="#1c1c1c"/>
<circle cx="470.0" cy="397.0" r="3.1" fill="#1c1c1c"/>
<circle cx="455.5" cy="400.3" r="3.1" fill="#1c1c1c"/>
<circle cx="460.0" cy="400.3" r="3.1" fill="#1c1c1c"/>
<circle cx="464.5" cy="400.3" r="3.1" fill="#1c1c1c"/>
<circle cx="469.0" cy="400.3" r="3.1" fill="#1c1c1c"/>
<circle cx="473.0" cy="400.3" r="3.1" fill="#1c1c1c"/>
<circle cx="456.0" cy="403.3" r="3.1" fill="#1c1c1c"/>
<circle cx="460.0" cy="403.5" r="3.1" fill="#1c1c1c"/>
<circle cx="464.0" cy="403.5" r="3.1" fill="#1c1c1c"/>
<circle cx="468.0" cy="403.5" r="3.1" fill="#1c1c1c"/>
<circle cx="472.0" cy="403.3" r="3.1" fill="#1c1c1c"/>
<path d="M449.5,395.3 H478.5" stroke="#000" stroke-width="1.7" fill="none"/>
<path d="M456.4,391.1 H471.6 M456.4,399.6 H471.6" stroke="#000" stroke-width="1.5" fill="none"/>
<path d="M464.0,391.1 V399.6" stroke="#000" stroke-width="1.5" fill="none"/>
<rect x="503.0" y="335.4" width="6.0" height="6.0" fill="#1c1c1c"/>
<rect x="503.0" y="349.9" width="6.0" height="6.0" fill="#1c1c1c"/>
<rect x="503.0" y="367.2" width="6.0" height="6.0" fill="#1c1c1c"/>
<rect x="503.0" y="380.5" width="6.0" height="6.0" fill="#1c1c1c"/>
<rect x="503.0" y="386.5" width="6.0" height="6.0" fill="#1c1c1c"/>
<rect x="494.5" y="396.0" width="6.0" height="6.0" fill="#1c1c1c"/>
<rect x="494.5" y="397.0" width="6.0" height="6.0" fill="#1c1c1c"/>
<rect x="500.0" y="394.0" width="6.0" height="6.0" fill="#1c1c1c"/>
<rect x="500.0" y="397.0" width="6.0" height="6.0" fill="#1c1c1c"/>
<rect x="506.0" y="394.0" width="6.0" height="6.0" fill="#1c1c1c"/>
<rect x="506.0" y="397.0" width="6.0" height="6.0" fill="#1c1c1c"/>
<rect x="512.8" y="393.2" width="6.0" height="6.0" fill="#1c1c1c"/>
<rect x="512.8" y="397.0" width="6.0" height="6.0" fill="#1c1c1c"/>
<rect x="503.0" y="395.0" width="6.0" height="6.0" fill="#1c1c1c"/>
<rect x="503.0" y="401.0" width="6.0" height="6.0" fill="#1c1c1c"/>
<rect x="494.4" y="396" width="24.4" height="7.2" fill="#1c1c1c"/>
<path d="M491.5,386.6 H520.5" stroke="#000" stroke-width="1.7" fill="none"/>
<path d="M498.4,380.8 H513.6 M498.4,392.6 H513.6" stroke="#000" stroke-width="2.0" fill="none"/>
<path d="M506.0,380.8 V392.6" stroke="#000" stroke-width="1.5" fill="none"/>
<path d="M547.0,378.4 L550.0,384.8 L544.0,384.8 Z" fill="#1c1c1c"/>
<path d="M555.6,374.9 L558.6,381.3 L552.6,381.3 Z" fill="#1c1c1c"/>
<path d="M555.6,381.9 L558.6,388.3 L552.6,388.3 Z" fill="#1c1c1c"/>
<path d="M538.9,396.3 L541.9,402.7 L535.9,402.7 Z" fill="#1c1c1c"/>
<path d="M544.0,396.3 L547.0,402.7 L541.0,402.7 Z" fill="#1c1c1c"/>
<path d="M549.9,396.3 L552.9,402.7 L546.9,402.7 Z" fill="#1c1c1c"/>
<path d="M541.0,390.8 L544.0,397.2 L538.0,397.2 Z" fill="#1c1c1c"/>
<path d="M546.0,390.3 L549.0,396.7 L543.0,396.7 Z" fill="#1c1c1c"/>
<path d="M551.0,390.8 L554.0,397.2 L548.0,397.2 Z" fill="#1c1c1c"/>
<path d="M547.0,401.3 L550.0,407.7 L544.0,407.7 Z" fill="#1c1c1c"/>
<path d="M555.3,401.3 L558.3,407.7 L552.3,407.7 Z" fill="#1c1c1c"/>
<path d="M553.0,394.8 L556.0,401.2 L550.0,401.2 Z" fill="#1c1c1c"/>
<path d="M543.0,388.3 L546.0,394.7 L540.0,394.7 Z" fill="#1c1c1c"/>
<path d="M549.0,388.8 L552.0,395.2 L546.0,395.2 Z" fill="#1c1c1c"/>
<path d="M532.5,394.1 H561.5" stroke="#000" stroke-width="1.7" fill="none"/>
<path d="M538.5,391.4 H555.5 M538.5,396.6 H555.5" stroke="#000" stroke-width="1.4" fill="none"/>
<path d="M547.0,391.4 V396.6" stroke="#000" stroke-width="1.5" fill="none"/>
<path d="M588.5,391.5 L591.5,385.1 L585.5,385.1 Z" fill="#1c1c1c"/>
<path d="M578.0,398.5 L581.0,392.1 L575.0,392.1 Z" fill="#1c1c1c"/>
<path d="M598.9,398.5 L601.9,392.1 L595.9,392.1 Z" fill="#1c1c1c"/>
<path d="M586.4,398.5 L589.4,392.1 L583.4,392.1 Z" fill="#1c1c1c"/>
<path d="M590.6,398.5 L593.6,392.1 L587.6,392.1 Z" fill="#1c1c1c"/>
<path d="M581.0,403.2 L584.0,396.8 L578.0,396.8 Z" fill="#1c1c1c"/>
<path d="M585.0,403.7 L588.0,397.3 L582.0,397.3 Z" fill="#1c1c1c"/>
<path d="M589.0,403.7 L592.0,397.3 L586.0,397.3 Z" fill="#1c1c1c"/>
<path d="M593.0,403.7 L596.0,397.3 L590.0,397.3 Z" fill="#1c1c1c"/>
<path d="M596.5,403.2 L599.5,396.8 L593.5,396.8 Z" fill="#1c1c1c"/>
<path d="M583.0,406.7 L586.0,400.3 L580.0,400.3 Z" fill="#1c1c1c"/>
<path d="M588.5,407.2 L591.5,400.8 L585.5,400.8 Z" fill="#1c1c1c"/>
<path d="M593.5,406.7 L596.5,400.3 L590.5,400.3 Z" fill="#1c1c1c"/>
<path d="M579.5,402.2 L582.5,395.8 L576.5,395.8 Z" fill="#1c1c1c"/>
<path d="M597.5,402.2 L600.5,395.8 L594.5,395.8 Z" fill="#1c1c1c"/>
<rect x="580" y="396.5" width="17" height="6" fill="#1c1c1c"/>
<path d="M574.2,398.7 H602.8" stroke="#000" stroke-width="1.7" fill="none"/>
<path d="M580.9,397.0 H596.1 M580.9,400.4 H596.1" stroke="#000" stroke-width="1.2" fill="none"/>
<path d="M588.5,397.0 V400.4" stroke="#000" stroke-width="1.5" fill="none"/>
<path d="M621.8,146.9 L625.6,150.7 L621.8,154.5 L618.0,150.7 Z" fill="#1c1c1c"/>
<path d="M638.6,146.9 L642.4,150.7 L638.6,154.5 L634.8,150.7 Z" fill="#1c1c1c"/>
<path d="M630.5,150.7 L634.3,154.5 L630.5,158.3 L626.7,154.5 Z" fill="#1c1c1c"/>
<path d="M626.4,153.6 L630.2,157.4 L626.4,161.2 L622.6,157.4 Z" fill="#1c1c1c"/>
<path d="M622.4,157.1 L626.2,160.9 L622.4,164.7 L618.6,160.9 Z" fill="#1c1c1c"/>
<path d="M634.5,157.1 L638.3,160.9 L634.5,164.7 L630.7,160.9 Z" fill="#1c1c1c"/>
<path d="M638.6,160.5 L642.4,164.3 L638.6,168.1 L634.8,164.3 Z" fill="#1c1c1c"/>
<path d="M629.9,159.9 L633.7,163.7 L629.9,167.5 L626.1,163.7 Z" fill="#1c1c1c"/>
<path d="M638.6,165.2 L642.4,169.0 L638.6,172.8 L634.8,169.0 Z" fill="#1c1c1c"/>
<path d="M632.8,165.7 L636.6,169.5 L632.8,173.3 L629.0,169.5 Z" fill="#1c1c1c"/>
<path d="M621.8,170.9 L625.6,174.7 L621.8,178.5 L618.0,174.7 Z" fill="#1c1c1c"/>
<path d="M629.9,170.9 L633.7,174.7 L629.9,178.5 L626.1,174.7 Z" fill="#1c1c1c"/>
<path d="M629.9,218.3 L633.7,222.1 L629.9,225.9 L626.1,222.1 Z" fill="#1c1c1c"/>
<path d="M626.5,161.7 L630.3,165.5 L626.5,169.3 L622.7,165.5 Z" fill="#1c1c1c"/>
<path d="M634.0,162.0 L637.8,165.8 L634.0,169.6 L630.2,165.8 Z" fill="#1c1c1c"/>
<path d="M615.4,167.2 H645" stroke="#000" stroke-width="1.7" fill="none"/>
<path d="M622.6,163.4 H637.4 M622.6,170.8 H637.4" stroke="#000" stroke-width="1.2" fill="none"/>
<circle cx="663.6" cy="151.3" r="1.7" fill="#1c1c1c"/>
<circle cx="665.6" cy="151.8" r="1.8" fill="#1c1c1c"/>
<circle cx="667.6" cy="152.3" r="1.9" fill="#1c1c1c"/>
<circle cx="669.6" cy="152.6" r="2.0" fill="#1c1c1c"/>
<circle cx="671.6" cy="152.8" r="2.0" fill="#1c1c1c"/>
<circle cx="673.6" cy="152.6" r="2.0" fill="#1c1c1c"/>
<circle cx="675.6" cy="152.3" r="1.9" fill="#1c1c1c"/>
<circle cx="677.6" cy="151.8" r="1.8" fill="#1c1c1c"/>
<circle cx="679.6" cy="151.3" r="1.7" fill="#1c1c1c"/>
<circle cx="666.6" cy="153.8" r="1.9" fill="#1c1c1c"/>
<circle cx="669.1" cy="154.6" r="2.0" fill="#1c1c1c"/>
<circle cx="671.6" cy="155.0" r="2.0" fill="#1c1c1c"/>
<circle cx="674.1" cy="154.6" r="2.0" fill="#1c1c1c"/>
<circle cx="676.6" cy="153.8" r="1.9" fill="#1c1c1c"/>
<circle cx="670.1" cy="156.6" r="1.8" fill="#1c1c1c"/>
<circle cx="673.1" cy="156.6" r="1.8" fill="#1c1c1c"/>
<circle cx="671.6" cy="157.6" r="1.6" fill="#1c1c1c"/>
<circle cx="666.6" cy="150.0" r="1.5" fill="#1c1c1c"/>
<circle cx="669.1" cy="149.8" r="1.5" fill="#1c1c1c"/>
<circle cx="671.6" cy="149.6" r="1.5" fill="#1c1c1c"/>
<circle cx="674.1" cy="149.8" r="1.5" fill="#1c1c1c"/>
<circle cx="676.6" cy="150.0" r="1.5" fill="#1c1c1c"/>
<path d="M657.1,151.3 H686" stroke="#000" stroke-width="1.7" fill="none"/>
<path transform="translate(713.2,151.3) scale(0.95)" d="M0,3.2 C-1.2,1.6 -3.4,0.2 -3.4,-1.5 C-3.4,-3.2 -0.9,-3.6 0,-1.9 C0.9,-3.6 3.4,-3.2 3.4,-1.5 C3.4,0.2 1.2,1.6 0,3.2 Z" fill="#1c1c1c"/>
<path transform="translate(711.8,153.6) scale(0.95)" d="M0,3.2 C-1.2,1.6 -3.4,0.2 -3.4,-1.5 C-3.4,-3.2 -0.9,-3.6 0,-1.9 C0.9,-3.6 3.4,-3.2 3.4,-1.5 C3.4,0.2 1.2,1.6 0,3.2 Z" fill="#1c1c1c"/>
<path transform="translate(714.8,153.6) scale(0.95)" d="M0,3.2 C-1.2,1.6 -3.4,0.2 -3.4,-1.5 C-3.4,-3.2 -0.9,-3.6 0,-1.9 C0.9,-3.6 3.4,-3.2 3.4,-1.5 C3.4,0.2 1.2,1.6 0,3.2 Z" fill="#1c1c1c"/>
<path transform="translate(710.3,156.4) scale(0.95)" d="M0,3.2 C-1.2,1.6 -3.4,0.2 -3.4,-1.5 C-3.4,-3.2 -0.9,-3.6 0,-1.9 C0.9,-3.6 3.4,-3.2 3.4,-1.5 C3.4,0.2 1.2,1.6 0,3.2 Z" fill="#1c1c1c"/>
<path transform="translate(716.3,156.4) scale(0.95)" d="M0,3.2 C-1.2,1.6 -3.4,0.2 -3.4,-1.5 C-3.4,-3.2 -0.9,-3.6 0,-1.9 C0.9,-3.6 3.4,-3.2 3.4,-1.5 C3.4,0.2 1.2,1.6 0,3.2 Z" fill="#1c1c1c"/>
<path transform="translate(708.4,159.2) scale(0.95)" d="M0,3.2 C-1.2,1.6 -3.4,0.2 -3.4,-1.5 C-3.4,-3.2 -0.9,-3.6 0,-1.9 C0.9,-3.6 3.4,-3.2 3.4,-1.5 C3.4,0.2 1.2,1.6 0,3.2 Z" fill="#1c1c1c"/>
<path transform="translate(718.0,159.6) scale(0.95)" d="M0,3.2 C-1.2,1.6 -3.4,0.2 -3.4,-1.5 C-3.4,-3.2 -0.9,-3.6 0,-1.9 C0.9,-3.6 3.4,-3.2 3.4,-1.5 C3.4,0.2 1.2,1.6 0,3.2 Z" fill="#1c1c1c"/>
<path transform="translate(706.5,159.6) scale(0.95)" d="M0,3.2 C-1.2,1.6 -3.4,0.2 -3.4,-1.5 C-3.4,-3.2 -0.9,-3.6 0,-1.9 C0.9,-3.6 3.4,-3.2 3.4,-1.5 C3.4,0.2 1.2,1.6 0,3.2 Z" fill="#1c1c1c"/>
<path transform="translate(720.0,161.6) scale(0.95)" d="M0,3.2 C-1.2,1.6 -3.4,0.2 -3.4,-1.5 C-3.4,-3.2 -0.9,-3.6 0,-1.9 C0.9,-3.6 3.4,-3.2 3.4,-1.5 C3.4,0.2 1.2,1.6 0,3.2 Z" fill="#1c1c1c"/>
<path transform="translate(709.0,162.0) scale(0.95)" d="M0,3.2 C-1.2,1.6 -3.4,0.2 -3.4,-1.5 C-3.4,-3.2 -0.9,-3.6 0,-1.9 C0.9,-3.6 3.4,-3.2 3.4,-1.5 C3.4,0.2 1.2,1.6 0,3.2 Z" fill="#1c1c1c"/>
<path transform="translate(712.0,162.7) scale(0.95)" d="M0,3.2 C-1.2,1.6 -3.4,0.2 -3.4,-1.5 C-3.4,-3.2 -0.9,-3.6 0,-1.9 C0.9,-3.6 3.4,-3.2 3.4,-1.5 C3.4,0.2 1.2,1.6 0,3.2 Z" fill="#1c1c1c"/>
<path transform="translate(715.5,162.7) scale(0.95)" d="M0,3.2 C-1.2,1.6 -3.4,0.2 -3.4,-1.5 C-3.4,-3.2 -0.9,-3.6 0,-1.9 C0.9,-3.6 3.4,-3.2 3.4,-1.5 C3.4,0.2 1.2,1.6 0,3.2 Z" fill="#1c1c1c"/>
<path transform="translate(718.3,163.2) scale(0.95)" d="M0,3.2 C-1.2,1.6 -3.4,0.2 -3.4,-1.5 C-3.4,-3.2 -0.9,-3.6 0,-1.9 C0.9,-3.6 3.4,-3.2 3.4,-1.5 C3.4,0.2 1.2,1.6 0,3.2 Z" fill="#1c1c1c"/>
<path transform="translate(719.0,181.7) scale(0.95)" d="M0,3.2 C-1.2,1.6 -3.4,0.2 -3.4,-1.5 C-3.4,-3.2 -0.9,-3.6 0,-1.9 C0.9,-3.6 3.4,-3.2 3.4,-1.5 C3.4,0.2 1.2,1.6 0,3.2 Z" fill="#1c1c1c"/>
<path transform="translate(706.7,192.9) scale(0.95)" d="M0,3.2 C-1.2,1.6 -3.4,0.2 -3.4,-1.5 C-3.4,-3.2 -0.9,-3.6 0,-1.9 C0.9,-3.6 3.4,-3.2 3.4,-1.5 C3.4,0.2 1.2,1.6 0,3.2 Z" fill="#1c1c1c"/>
<path transform="translate(713.0,192.9) scale(0.95)" d="M0,3.2 C-1.2,1.6 -3.4,0.2 -3.4,-1.5 C-3.4,-3.2 -0.9,-3.6 0,-1.9 C0.9,-3.6 3.4,-3.2 3.4,-1.5 C3.4,0.2 1.2,1.6 0,3.2 Z" fill="#1c1c1c"/>
<path transform="translate(712.0,279.8) scale(1.0)" d="M0,3.2 C-1.2,1.6 -3.4,0.2 -3.4,-1.5 C-3.4,-3.2 -0.9,-3.6 0,-1.9 C0.9,-3.6 3.4,-3.2 3.4,-1.5 C3.4,0.2 1.2,1.6 0,3.2 Z" fill="#1c1c1c"/>
<path d="M698.9,174.2 H727.5" stroke="#000" stroke-width="1.7" fill="none"/>
<path d="M705.9,164.0 H720.5 M705.9,184.6 H720.5" stroke="#000" stroke-width="1.5" fill="none"/>
<path d="M713.2,164.0 V184.6" stroke="#000" stroke-width="1.5" fill="none"/>
<polygon points="754.60,331.40 755.37,333.45 757.55,333.54 755.84,334.90 756.42,337.01 754.60,335.80 752.78,337.01 753.36,334.90 751.65,333.54 753.83,333.45" fill="#2a2a2a"/>
<polygon points="754.60,353.10 755.37,355.15 757.55,355.24 755.84,356.60 756.42,358.71 754.60,357.50 752.78,358.71 753.36,356.60 751.65,355.24 753.83,355.15" fill="#2a2a2a"/>
<polygon points="746.40,378.10 747.14,380.08 749.25,380.17 747.60,381.49 748.16,383.53 746.40,382.36 744.64,383.53 745.20,381.49 743.55,380.17 745.66,380.08" fill="#2a2a2a"/>
<polygon points="765.40,389.30 766.14,391.28 768.25,391.37 766.60,392.69 767.16,394.73 765.40,393.56 763.64,394.73 764.20,392.69 762.55,391.37 764.66,391.28" fill="#2a2a2a"/>
<polygon points="752.50,392.00 753.04,393.45 754.59,393.52 753.38,394.49 753.79,395.98 752.50,395.12 751.21,395.98 751.62,394.49 750.41,393.52 751.96,393.45" fill="#2a2a2a"/>
<polygon points="757.00,392.00 757.54,393.45 759.09,393.52 757.88,394.49 758.29,395.98 757.00,395.12 755.71,395.98 756.12,394.49 754.91,393.52 756.46,393.45" fill="#2a2a2a"/>
<polygon points="746.60,397.10 747.22,398.75 748.98,398.83 747.60,399.92 748.07,401.62 746.60,400.65 745.13,401.62 745.60,399.92 744.22,398.83 745.98,398.75" fill="#2a2a2a"/>
<polygon points="750.80,397.10 751.42,398.75 753.18,398.83 751.80,399.92 752.27,401.62 750.80,400.65 749.33,401.62 749.80,399.92 748.42,398.83 750.18,398.75" fill="#2a2a2a"/>
<polygon points="755.00,397.10 755.62,398.75 757.38,398.83 756.00,399.92 756.47,401.62 755.00,400.65 753.53,401.62 754.00,399.92 752.62,398.83 754.38,398.75" fill="#2a2a2a"/>
<polygon points="759.20,397.10 759.82,398.75 761.58,398.83 760.20,399.92 760.67,401.62 759.20,400.65 757.73,401.62 758.20,399.92 756.82,398.83 758.58,398.75" fill="#2a2a2a"/>
<polygon points="763.40,397.10 764.02,398.75 765.78,398.83 764.40,399.92 764.87,401.62 763.40,400.65 761.93,401.62 762.40,399.92 761.02,398.83 762.78,398.75" fill="#2a2a2a"/>
<path d="M740.1,385.9 H769.1" stroke="#000" stroke-width="1.7" fill="none"/>
<path d="M746.7,379.9 H762.5 M746.7,392.0 H762.5" stroke="#000" stroke-width="2.1" fill="none"/>
<path d="M754.6,379.9 V392.0" stroke="#000" stroke-width="1.5" fill="none"/>
</g>
</svg>
</body></html>
